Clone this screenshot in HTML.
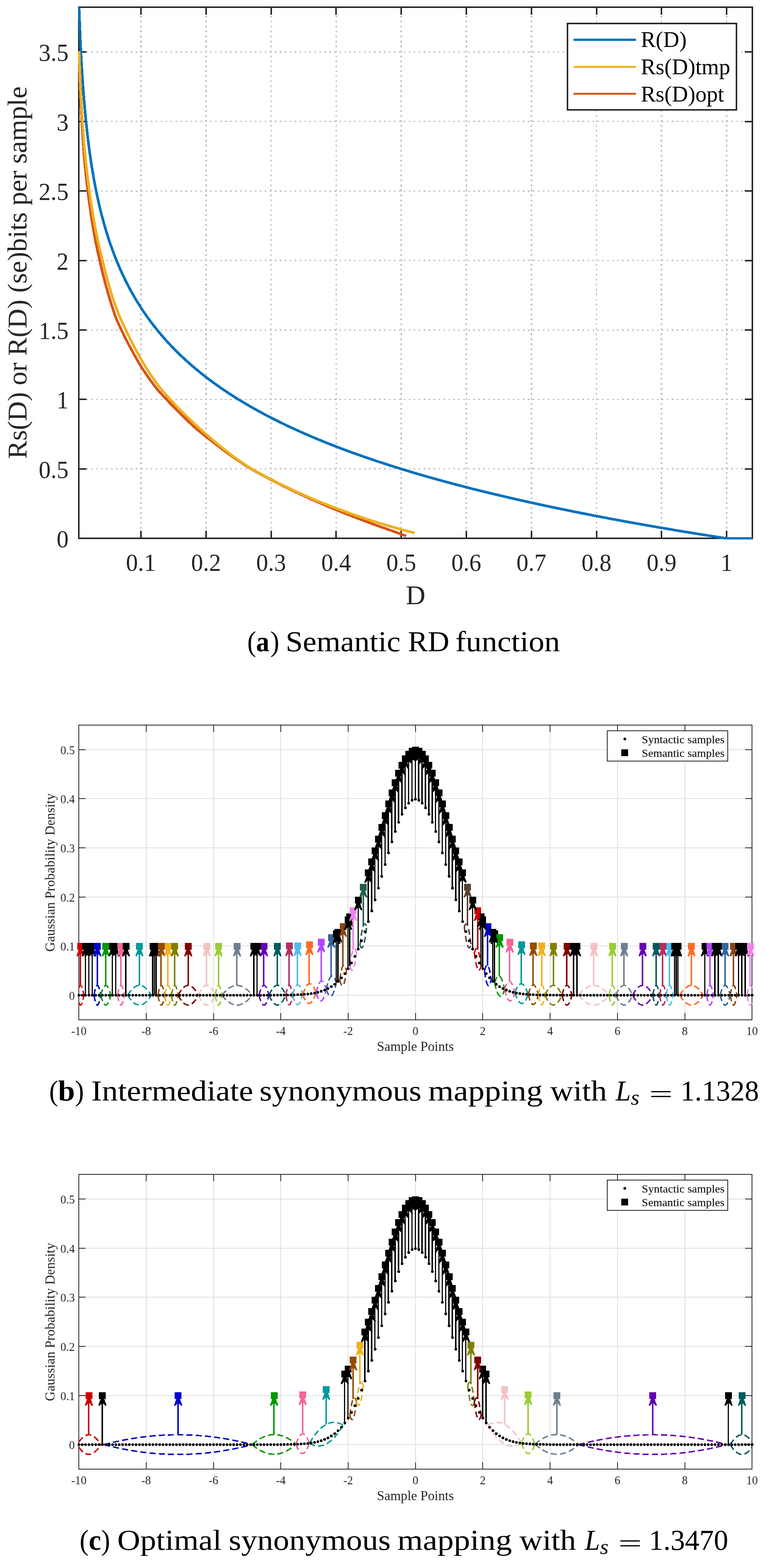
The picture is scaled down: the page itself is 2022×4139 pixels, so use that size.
<!DOCTYPE html>
<html lang="en"><head><meta charset="utf-8"><title>Semantic RD function and synonymous mappings</title>
<style>html,body{margin:0;padding:0;background:#fff}body{width:2022px;height:4139px;overflow:hidden}svg{display:block}text{white-space:pre}</style>
</head><body>
<svg width="2022" height="4139" viewBox="0 0 2022 4139" role="img" aria-label="Semantic rate-distortion function and synonymous mappings">
<rect width="2022" height="4139" fill="#fff"/>
<g id="plotA" shape-rendering="crispEdges">
<clipPath id="clipA"><rect x="206" y="17" width="1782" height="1407"/></clipPath>
<g stroke="#B9B9B9" stroke-width="3.7" stroke-dasharray="4.3 8.8" fill="none">
<line x1="372" y1="19" x2="372" y2="1421" stroke-dashoffset="3.31"/>
<line x1="543.79" y1="19" x2="543.79" y2="1421" stroke-dashoffset="3.31"/>
<line x1="715.57" y1="19" x2="715.57" y2="1421" stroke-dashoffset="3.31"/>
<line x1="887.36" y1="19" x2="887.36" y2="1421" stroke-dashoffset="3.31"/>
<line x1="1059.15" y1="19" x2="1059.15" y2="1421" stroke-dashoffset="3.31"/>
<line x1="1230.94" y1="19" x2="1230.94" y2="1421" stroke-dashoffset="3.31"/>
<line x1="1402.72" y1="19" x2="1402.72" y2="1421" stroke-dashoffset="3.31"/>
<line x1="1574.51" y1="19" x2="1574.51" y2="1421" stroke-dashoffset="3.31"/>
<line x1="1746.3" y1="19" x2="1746.3" y2="1421" stroke-dashoffset="3.31"/>
<line x1="1918.09" y1="19" x2="1918.09" y2="1421" stroke-dashoffset="3.31"/>
<line x1="208" y1="1237.88" x2="1986" y2="1237.88" stroke-width="3" stroke-dashoffset="6.71"/>
<line x1="208" y1="1054.47" x2="1986" y2="1054.47" stroke-width="3" stroke-dashoffset="6.71"/>
<line x1="208" y1="871.05" x2="1986" y2="871.05" stroke-width="3" stroke-dashoffset="6.71"/>
<line x1="208" y1="687.64" x2="1986" y2="687.64" stroke-width="3" stroke-dashoffset="6.71"/>
<line x1="208" y1="504.22" x2="1986" y2="504.22" stroke-width="3" stroke-dashoffset="6.71"/>
<line x1="208" y1="320.81" x2="1986" y2="320.81" stroke-width="3" stroke-dashoffset="6.71"/>
<line x1="208" y1="137.39" x2="1986" y2="137.39" stroke-width="3" stroke-dashoffset="6.71"/>
</g>
<rect x="208" y="19" width="1778" height="1402" fill="none" stroke="#262626" stroke-width="4"/>
<g stroke="#262626" stroke-width="4" fill="none">
<line x1="372" y1="1421" x2="372" y2="1401"/>
<line x1="372" y1="19" x2="372" y2="39"/>
<line x1="543.79" y1="1421" x2="543.79" y2="1401"/>
<line x1="543.79" y1="19" x2="543.79" y2="39"/>
<line x1="715.57" y1="1421" x2="715.57" y2="1401"/>
<line x1="715.57" y1="19" x2="715.57" y2="39"/>
<line x1="887.36" y1="1421" x2="887.36" y2="1401"/>
<line x1="887.36" y1="19" x2="887.36" y2="39"/>
<line x1="1059.15" y1="1421" x2="1059.15" y2="1401"/>
<line x1="1059.15" y1="19" x2="1059.15" y2="39"/>
<line x1="1230.94" y1="1421" x2="1230.94" y2="1401"/>
<line x1="1230.94" y1="19" x2="1230.94" y2="39"/>
<line x1="1402.72" y1="1421" x2="1402.72" y2="1401"/>
<line x1="1402.72" y1="19" x2="1402.72" y2="39"/>
<line x1="1574.51" y1="1421" x2="1574.51" y2="1401"/>
<line x1="1574.51" y1="19" x2="1574.51" y2="39"/>
<line x1="1746.3" y1="1421" x2="1746.3" y2="1401"/>
<line x1="1746.3" y1="19" x2="1746.3" y2="39"/>
<line x1="1918.09" y1="1421" x2="1918.09" y2="1401"/>
<line x1="1918.09" y1="19" x2="1918.09" y2="39"/>
<line x1="208" y1="1237.88" x2="228" y2="1237.88"/>
<line x1="1986" y1="1237.88" x2="1966" y2="1237.88"/>
<line x1="208" y1="1054.47" x2="228" y2="1054.47"/>
<line x1="1986" y1="1054.47" x2="1966" y2="1054.47"/>
<line x1="208" y1="871.05" x2="228" y2="871.05"/>
<line x1="1986" y1="871.05" x2="1966" y2="871.05"/>
<line x1="208" y1="687.64" x2="228" y2="687.64"/>
<line x1="1986" y1="687.64" x2="1966" y2="687.64"/>
<line x1="208" y1="504.22" x2="228" y2="504.22"/>
<line x1="1986" y1="504.22" x2="1966" y2="504.22"/>
<line x1="208" y1="320.81" x2="228" y2="320.81"/>
<line x1="1986" y1="320.81" x2="1966" y2="320.81"/>
<line x1="208" y1="137.39" x2="228" y2="137.39"/>
<line x1="1986" y1="137.39" x2="1966" y2="137.39"/>
</g>
<g clip-path="url(#clipA)" fill="none" stroke-width="6.9" stroke-linejoin="round" stroke-linecap="butt">
<polyline stroke="#0072BD" points="208.8,19.3 209.09,28.06 209.39,36.83 209.7,45.59 210.02,54.35 210.35,63.11 210.69,71.88 211.04,80.64 211.41,89.4 211.78,98.16 212.17,106.92 212.57,115.69 212.99,124.45 213.42,133.21 213.87,141.97 214.33,150.74 214.8,159.5 215.29,168.26 215.8,177.03 216.32,185.79 216.87,194.55 217.43,203.31 218.01,212.07 218.61,220.84 219.23,229.6 219.87,238.36 220.53,247.12 221.21,255.89 221.92,264.65 222.65,273.41 223.41,282.17 224.19,290.94 224.99,299.7 225.83,308.46 226.69,317.22 227.58,325.99 228.5,334.75 229.46,343.51 230.44,352.28 231.46,361.04 232.51,369.8 233.6,378.56 234.72,387.33 235.89,396.09 237.09,404.85 238.33,413.61 239.61,422.38 240.94,431.14 242.31,439.9 243.73,448.66 245.19,457.42 246.71,466.19 248.27,474.95 249.89,483.71 251.56,492.47 253.29,501.24 255.08,510 256.93,518.76 258.84,527.52 260.81,536.29 262.85,545.05 264.96,553.81 267.14,562.57 269.39,571.34 271.72,580.1 274.13,588.86 276.62,597.62 279.19,606.39 281.85,615.15 284.6,623.91 287.44,632.67 290.38,641.44 293.41,650.2 296.55,658.96 299.79,667.73 303.15,676.49 306.61,685.25 310.2,694.01 313.9,702.77 317.73,711.54 321.68,720.3 325.77,729.06 330,737.82 334.37,746.59 338.89,755.35 343.56,764.11 348.38,772.87 353.37,781.64 358.53,790.4 363.86,799.16 369.37,807.92 375.06,816.69 380.95,825.45 387.04,834.21 393.33,842.98 399.83,851.74 406.55,860.5 413.5,869.26 420.68,878.02 428.1,886.79 435.77,895.55 443.7,904.31 451.9,913.07 460.38,921.84 469.14,930.6 478.19,939.36 487.55,948.12 497.22,956.89 507.22,965.65 517.56,974.41 528.25,983.17 539.29,991.94 550.71,1000.7 562.51,1009.46 574.7,1018.22 587.31,1026.99 600.35,1035.75 613.82,1044.51 627.74,1053.28 642.14,1062.04 657.02,1070.8 672.4,1079.56 688.3,1088.32 704.73,1097.09 721.72,1105.85 739.28,1114.61 757.43,1123.38 776.19,1132.14 795.58,1140.9 815.62,1149.66 836.34,1158.42 857.76,1167.19 879.9,1175.95 902.79,1184.71 926.44,1193.47 950.89,1202.24 976.17,1211 1002.29,1219.76 1029.3,1228.53 1057.21,1237.29 1086.07,1246.05 1115.89,1254.81 1146.72,1263.57 1178.59,1272.34 1211.53,1281.1 1245.58,1289.86 1280.78,1298.62 1317.16,1307.39 1354.76,1316.15 1393.64,1324.91 1433.82,1333.67 1475.35,1342.44 1518.28,1351.2 1562.66,1359.96 1608.54,1368.72 1655.95,1377.49 1704.97,1386.25 1755.63,1395.01 1808,1403.78 1862.13,1412.54 1918.09,1421.3 1986.8,1421.3"/>
<polyline stroke="#D95319" points="208.8,154.25 209.14,164.71 209.49,175.19 209.85,185.67 210.23,196.17 210.62,206.68 211.03,217.21 211.46,227.75 211.9,238.3 212.36,248.86 212.83,259.45 213.33,270.04 213.84,280.66 214.38,291.29 214.94,301.94 215.51,312.61 216.11,323.3 216.74,334.01 217.39,344.74 218.06,355.5 218.76,366.28 219.49,377.08 220.25,387.91 221.03,398.76 221.85,409.65 222.7,420.32 223.58,429.89 224.5,439.44 225.45,448.97 226.44,458.48 227.47,467.96 228.54,477.42 229.66,486.84 230.81,496.25 232.01,505.75 233.26,515.98 234.56,526.2 235.91,536.43 237.31,546.66 238.76,556.89 240.28,567.12 241.85,577.35 243.48,587.58 245.18,597.82 246.95,608.06 248.78,618.3 250.69,628.54 252.67,638.79 254.73,649.03 256.87,659.28 259.09,669.53 261.4,679.79 263.81,690.2 266.3,701.19 268.9,712.22 271.59,723.28 274.39,734.38 277.31,745.51 280.33,756.69 283.48,767.91 286.75,779.18 290.14,790.61 293.67,802.12 297.34,813.68 301.15,825.31 305.12,836.77 309.23,846.46 313.51,856.14 317.96,865.79 322.58,875.6 327.39,885.6 332.38,895.6 337.56,905.59 342.96,915.58 348.56,925.55 354.38,936.29 360.43,947.14 366.72,958.02 373.26,968.93 380.05,979.41 387.11,989.78 394.44,1000.17 402.07,1010.56 409.99,1020.96 418.23,1031.28 426.78,1040.74 435.68,1050.17 444.92,1060 454.52,1070.19 464.51,1080.38 474.88,1090.57 485.66,1101.26 496.87,1112.19 508.51,1123.15 520.61,1133.84 533.19,1144 546.26,1154.28 559.84,1165.09 573.96,1175.92 588.63,1187.12 603.87,1198.43 619.72,1209.63 636.18,1220.8 653.29,1232 671.08,1242.36 689.56,1252.55 708.77,1262.74 728.73,1273.14 749.47,1283.67 771.03,1294.21 793.44,1304.81 816.72,1315.44 840.92,1326.15 866.07,1337 892.21,1347.84 919.37,1358.57 947.6,1369.4 976.93,1380.57 1007.42,1391.64 1039.1,1402.69 1072.03,1415.01"/>
<polyline stroke="#EDB120" points="208.8,135.33 209.14,145.49 209.49,155.65 209.86,165.81 210.24,175.96 210.63,186.1 211.05,196.25 211.47,206.39 211.92,216.52 212.38,226.66 212.86,236.78 213.36,246.91 213.88,257.02 214.42,267.14 214.98,277.24 215.56,287.35 216.17,297.44 216.8,307.54 217.45,317.62 218.13,327.7 218.84,337.78 219.57,347.84 220.34,357.9 221.13,367.96 221.96,378 222.82,388.04 223.71,398.07 224.64,408.09 225.6,418.11 226.6,427.99 227.64,437.82 228.73,447.64 229.85,457.45 231.02,467.23 232.24,477 233.5,486.76 234.82,496.49 236.18,506.24 237.6,516.63 239.08,527.02 240.61,537.43 242.21,547.83 243.86,558.25 245.59,568.67 247.38,579.1 249.24,589.54 251.17,599.98 253.18,610.43 255.28,620.89 257.45,631.36 259.71,641.84 262.06,652.33 264.5,662.83 267.03,673.34 269.67,683.86 272.41,695.08 275.26,706.75 278.22,718.48 281.3,730.27 284.5,742.14 287.83,754.08 291.29,766.1 294.88,778.21 298.62,789.33 302.5,800.45 306.54,811.6 310.74,822.79 315.1,834.03 319.63,844.44 324.35,854.68 329.25,864.92 334.34,875.33 339.63,886.46 345.14,897.63 350.86,908.84 356.8,920.09 362.98,931.51 369.4,943.14 376.08,954.83 383.02,966.59 390.24,978.01 397.74,989.23 405.53,1000.48 413.64,1011.78 422.06,1023.13 430.82,1033.73 439.92,1044.14 449.38,1054.55 459.21,1065.15 469.43,1075.76 480.06,1086.38 491.1,1097.2 502.59,1108.39 514.52,1119.62 526.92,1130.98 539.82,1142.55 553.22,1154.31 567.15,1166.19 581.64,1178.15 596.69,1190.19 612.34,1202.19 628.6,1213.89 645.51,1225.65 663.09,1236.85 681.35,1247.09 700.34,1257.34 720.08,1267.62 740.6,1278.03 761.93,1288.44 784.1,1298.82 807.14,1309.12 831.09,1319.43 855.99,1329.48 881.87,1339.52 908.78,1349.58 936.74,1359.65 965.81,1369.48 996.03,1379.17 1027.44,1388.65 1060.08,1397.85 1094.02,1406.9"/>
</g>
<g font-family="'Liberation Serif','Times New Roman',Times,serif" font-size="65" fill="#262626">
<text x="372" y="1507.4" text-anchor="middle" textLength="78.81" lengthAdjust="spacingAndGlyphs">0.1</text>
<text x="543.79" y="1507.4" text-anchor="middle" textLength="78.81" lengthAdjust="spacingAndGlyphs">0.2</text>
<text x="715.57" y="1507.4" text-anchor="middle" textLength="78.81" lengthAdjust="spacingAndGlyphs">0.3</text>
<text x="887.36" y="1507.4" text-anchor="middle" textLength="78.81" lengthAdjust="spacingAndGlyphs">0.4</text>
<text x="1059.15" y="1507.4" text-anchor="middle" textLength="78.81" lengthAdjust="spacingAndGlyphs">0.5</text>
<text x="1230.94" y="1507.4" text-anchor="middle" textLength="78.81" lengthAdjust="spacingAndGlyphs">0.6</text>
<text x="1402.72" y="1507.4" text-anchor="middle" textLength="78.81" lengthAdjust="spacingAndGlyphs">0.7</text>
<text x="1574.51" y="1507.4" text-anchor="middle" textLength="78.81" lengthAdjust="spacingAndGlyphs">0.8</text>
<text x="1746.3" y="1507.4" text-anchor="middle" textLength="78.81" lengthAdjust="spacingAndGlyphs">0.9</text>
<text x="1918.09" y="1507.4" text-anchor="middle" textLength="31.52" lengthAdjust="spacingAndGlyphs">1</text>
<text x="181" y="1445.3" text-anchor="end" textLength="31.52" lengthAdjust="spacingAndGlyphs">0</text>
<text x="181" y="1261.88" text-anchor="end" textLength="78.81" lengthAdjust="spacingAndGlyphs">0.5</text>
<text x="181" y="1078.47" text-anchor="end" textLength="31.52" lengthAdjust="spacingAndGlyphs">1</text>
<text x="181" y="895.05" text-anchor="end" textLength="78.81" lengthAdjust="spacingAndGlyphs">1.5</text>
<text x="181" y="711.64" text-anchor="end" textLength="31.52" lengthAdjust="spacingAndGlyphs">2</text>
<text x="181" y="528.22" text-anchor="end" textLength="78.81" lengthAdjust="spacingAndGlyphs">2.5</text>
<text x="181" y="344.81" text-anchor="end" textLength="31.52" lengthAdjust="spacingAndGlyphs">3</text>
<text x="181" y="161.39" text-anchor="end" textLength="78.81" lengthAdjust="spacingAndGlyphs">3.5</text>
</g>
<text x="1097" y="1594.5" text-anchor="middle" font-family="'Liberation Serif','Times New Roman',Times,serif" font-size="71.5" fill="#262626">D</text>
<text transform="translate(70 719.7) rotate(-90)" text-anchor="middle" font-family="'Liberation Serif','Times New Roman',Times,serif" font-size="71.5" fill="#262626" textLength="983.2" lengthAdjust="spacingAndGlyphs">Rs(D) or R(D) (se)bits per sample</text>
<rect x="1497.5" y="62" width="446.7" height="228.4" fill="#fff" stroke="#262626" stroke-width="4"/>
<line x1="1514.2" y1="104.8" x2="1678.7" y2="104.8" stroke="#0072BD" stroke-width="5.6"/>
<text x="1691.5" y="124.3" font-family="'Liberation Serif','Times New Roman',Times,serif" font-size="59" fill="#000">R(D)</text>
<line x1="1514.2" y1="176.3" x2="1678.7" y2="176.3" stroke="#EDB120" stroke-width="5.6"/>
<text x="1691.5" y="195.8" font-family="'Liberation Serif','Times New Roman',Times,serif" font-size="59" fill="#000">Rs(D)tmp</text>
<line x1="1514.2" y1="247.5" x2="1678.7" y2="247.5" stroke="#D95319" stroke-width="5.6"/>
<text x="1691.5" y="267.7" font-family="'Liberation Serif','Times New Roman',Times,serif" font-size="59" fill="#000">Rs(D)opt</text>
</g>
<g id="plotB" shape-rendering="crispEdges">
<clipPath id="clipB"><rect x="206.95" y="1912.9" width="1779.55" height="780"/></clipPath>
<g stroke="#DEDEDE" stroke-width="2.1" fill="none">
<line x1="385.87" y1="1913.9" x2="385.87" y2="2691.9"/>
<line x1="563.58" y1="1913.9" x2="563.58" y2="2691.9"/>
<line x1="741.29" y1="1913.9" x2="741.29" y2="2691.9"/>
<line x1="919.01" y1="1913.9" x2="919.01" y2="2691.9"/>
<line x1="1096.72" y1="1913.9" x2="1096.72" y2="2691.9"/>
<line x1="1274.44" y1="1913.9" x2="1274.44" y2="2691.9"/>
<line x1="1452.15" y1="1913.9" x2="1452.15" y2="2691.9"/>
<line x1="1629.87" y1="1913.9" x2="1629.87" y2="2691.9"/>
<line x1="1807.58" y1="1913.9" x2="1807.58" y2="2691.9"/>
<line x1="208.15" y1="2627.07" x2="1985.3" y2="2627.07"/>
<line x1="208.15" y1="2497.4" x2="1985.3" y2="2497.4"/>
<line x1="208.15" y1="2367.73" x2="1985.3" y2="2367.73"/>
<line x1="208.15" y1="2238.07" x2="1985.3" y2="2238.07"/>
<line x1="208.15" y1="2108.4" x2="1985.3" y2="2108.4"/>
<line x1="208.15" y1="1978.73" x2="1985.3" y2="1978.73"/>
</g>
<rect x="208" y="1914" width="1777" height="778" fill="none" stroke="#1a1a1a" stroke-width="2"/>
<g stroke="#1a1a1a" stroke-width="2" fill="none">
<line x1="385.87" y1="2691.9" x2="385.87" y2="2673.9"/>
<line x1="385.87" y1="1913.9" x2="385.87" y2="1931.9"/>
<line x1="563.58" y1="2691.9" x2="563.58" y2="2673.9"/>
<line x1="563.58" y1="1913.9" x2="563.58" y2="1931.9"/>
<line x1="741.29" y1="2691.9" x2="741.29" y2="2673.9"/>
<line x1="741.29" y1="1913.9" x2="741.29" y2="1931.9"/>
<line x1="919.01" y1="2691.9" x2="919.01" y2="2673.9"/>
<line x1="919.01" y1="1913.9" x2="919.01" y2="1931.9"/>
<line x1="1096.72" y1="2691.9" x2="1096.72" y2="2673.9"/>
<line x1="1096.72" y1="1913.9" x2="1096.72" y2="1931.9"/>
<line x1="1274.44" y1="2691.9" x2="1274.44" y2="2673.9"/>
<line x1="1274.44" y1="1913.9" x2="1274.44" y2="1931.9"/>
<line x1="1452.15" y1="2691.9" x2="1452.15" y2="2673.9"/>
<line x1="1452.15" y1="1913.9" x2="1452.15" y2="1931.9"/>
<line x1="1629.87" y1="2691.9" x2="1629.87" y2="2673.9"/>
<line x1="1629.87" y1="1913.9" x2="1629.87" y2="1931.9"/>
<line x1="1807.58" y1="2691.9" x2="1807.58" y2="2673.9"/>
<line x1="1807.58" y1="1913.9" x2="1807.58" y2="1931.9"/>
<line x1="208.15" y1="2627.07" x2="226.15" y2="2627.07"/>
<line x1="1985.3" y1="2627.07" x2="1967.3" y2="2627.07"/>
<line x1="208.15" y1="2497.4" x2="226.15" y2="2497.4"/>
<line x1="1985.3" y1="2497.4" x2="1967.3" y2="2497.4"/>
<line x1="208.15" y1="2367.73" x2="226.15" y2="2367.73"/>
<line x1="1985.3" y1="2367.73" x2="1967.3" y2="2367.73"/>
<line x1="208.15" y1="2238.07" x2="226.15" y2="2238.07"/>
<line x1="1985.3" y1="2238.07" x2="1967.3" y2="2238.07"/>
<line x1="208.15" y1="2108.4" x2="226.15" y2="2108.4"/>
<line x1="1985.3" y1="2108.4" x2="1967.3" y2="2108.4"/>
<line x1="208.15" y1="1978.73" x2="226.15" y2="1978.73"/>
<line x1="1985.3" y1="1978.73" x2="1967.3" y2="1978.73"/>
</g>
<g clip-path="url(#clipB)" fill="none" stroke-width="3.8" stroke-dasharray="16 8.4">
<path stroke="#CC0000" d="M208.2 2607.6Q214.8 2588.2 221.5 2627.1"/>
<path stroke="#CC0000" d="M208.2 2646.5Q214.8 2666 221.5 2627.1"/>
<path stroke="#0000CC" d="M248.1 2627.1Q257 2575.2 265.9 2627.1"/>
<path stroke="#0000CC" d="M248.1 2627.1Q257 2678.9 265.9 2627.1"/>
<path stroke="#009900" d="M265.9 2627.1Q279.2 2575.2 292.6 2627.1"/>
<path stroke="#009900" d="M265.9 2627.1Q279.2 2678.9 292.6 2627.1"/>
<path stroke="#F2669A" d="M310.3 2627.1Q319.2 2575.2 328.1 2627.1"/>
<path stroke="#F2669A" d="M310.3 2627.1Q319.2 2678.9 328.1 2627.1"/>
<path stroke="#009999" d="M337 2627.1Q368.1 2575.2 399.2 2627.1"/>
<path stroke="#009999" d="M337 2627.1Q368.1 2678.9 399.2 2627.1"/>
<path stroke="#964B00" d="M417 2627.1Q425.9 2575.2 434.7 2627.1"/>
<path stroke="#964B00" d="M417 2627.1Q425.9 2678.9 434.7 2627.1"/>
<path stroke="#EDB120" d="M434.7 2627.1Q443.6 2575.2 452.5 2627.1"/>
<path stroke="#EDB120" d="M434.7 2627.1Q443.6 2678.9 452.5 2627.1"/>
<path stroke="#808000" d="M452.5 2627.1Q461.4 2575.2 470.3 2627.1"/>
<path stroke="#808000" d="M452.5 2627.1Q461.4 2678.9 470.3 2627.1"/>
<path stroke="#800000" d="M470.3 2627.1Q496.9 2575.2 523.6 2627.1"/>
<path stroke="#800000" d="M470.3 2627.1Q496.9 2678.9 523.6 2627.1"/>
<path stroke="#F4C2C2" d="M523.6 2627.1Q545.8 2575.2 568 2627.1"/>
<path stroke="#F4C2C2" d="M523.6 2627.1Q545.8 2678.9 568 2627.1"/>
<path stroke="#9ACD32" d="M568 2627.1Q576.9 2575.2 585.8 2627.1"/>
<path stroke="#9ACD32" d="M568 2627.1Q576.9 2678.9 585.8 2627.1"/>
<path stroke="#708090" d="M585.8 2627.1Q625.8 2575.2 665.8 2627.1"/>
<path stroke="#708090" d="M585.8 2627.1Q625.8 2678.9 665.8 2627.1"/>
<path stroke="#6600B3" d="M683.5 2627.1Q696.9 2575.2 710.2 2627"/>
<path stroke="#6600B3" d="M683.5 2627.1Q696.9 2678.9 710.2 2627"/>
<path stroke="#005B5B" d="M710.2 2627Q732.4 2575 754.6 2626.8"/>
<path stroke="#005B5B" d="M710.2 2627Q732.4 2678.8 754.6 2626.8"/>
<path stroke="#B03060" d="M754.6 2626.8Q763.5 2574.7 772.4 2626.4"/>
<path stroke="#B03060" d="M754.6 2626.8Q763.5 2678.4 772.4 2626.4"/>
<path stroke="#4DBEEE" d="M772.4 2626.4Q785.7 2573.9 799.1 2625.2"/>
<path stroke="#4DBEEE" d="M772.4 2626.4Q785.7 2677.7 799.1 2625.2"/>
<path stroke="#FF6A24" d="M799.1 2625.2Q816.8 2570.9 834.6 2620.4"/>
<path stroke="#FF6A24" d="M799.1 2625.2Q816.8 2674.7 834.6 2620.4"/>
<path stroke="#B347FF" d="M834.6 2620.4Q847.9 2564.1 861.3 2611.6"/>
<path stroke="#B347FF" d="M834.6 2620.4Q847.9 2667.9 861.3 2611.6"/>
<path stroke="#336699" d="M861.3 2611.6Q874.6 2551.1 887.9 2594.4"/>
<path stroke="#336699" d="M861.3 2611.6Q874.6 2654.9 887.9 2594.4"/>
<path stroke="#8B4513" d="M896.8 2585.9Q905.7 2523 914.6 2563.8"/>
<path stroke="#8B4513" d="M896.8 2585.9Q905.7 2626.7 914.6 2563.8"/>
<path stroke="#EE82EE" d="M923.5 2549.8Q932.3 2480.6 941.2 2515.2"/>
<path stroke="#EE82EE" d="M923.5 2549.8Q932.3 2584.4 941.2 2515.2"/>
<path stroke="#215E4C" d="M950.1 2494.5Q959 2418.5 967.9 2446.3"/>
<path stroke="#215E4C" d="M950.1 2494.5Q959 2522.2 967.9 2446.3"/>
<path stroke="#5C4033" d="M1225.6 2446.3Q1234.5 2418.5 1243.3 2494.5"/>
<path stroke="#5C4033" d="M1225.6 2446.3Q1234.5 2522.2 1243.3 2494.5"/>
<path stroke="#CC0000" d="M1252.2 2515.2Q1261.1 2480.6 1270 2549.8"/>
<path stroke="#CC0000" d="M1252.2 2515.2Q1261.1 2584.4 1270 2549.8"/>
<path stroke="#0000CC" d="M1278.9 2563.8Q1287.8 2523 1296.7 2585.9"/>
<path stroke="#0000CC" d="M1278.9 2563.8Q1287.8 2626.7 1296.7 2585.9"/>
<path stroke="#009900" d="M1305.5 2594.4Q1318.9 2551.1 1332.2 2611.6"/>
<path stroke="#009900" d="M1305.5 2594.4Q1318.9 2654.9 1332.2 2611.6"/>
<path stroke="#F2669A" d="M1332.2 2611.6Q1345.5 2564.1 1358.9 2620.4"/>
<path stroke="#F2669A" d="M1332.2 2611.6Q1345.5 2667.9 1358.9 2620.4"/>
<path stroke="#009999" d="M1358.9 2620.4Q1376.6 2570.9 1394.4 2625.2"/>
<path stroke="#009999" d="M1358.9 2620.4Q1376.6 2674.7 1394.4 2625.2"/>
<path stroke="#964B00" d="M1394.4 2625.2Q1407.7 2573.9 1421.1 2626.4"/>
<path stroke="#964B00" d="M1394.4 2625.2Q1407.7 2677.7 1421.1 2626.4"/>
<path stroke="#EDB120" d="M1421.1 2626.4Q1429.9 2574.7 1438.8 2626.8"/>
<path stroke="#EDB120" d="M1421.1 2626.4Q1429.9 2678.4 1438.8 2626.8"/>
<path stroke="#808000" d="M1438.8 2626.8Q1461 2575 1483.3 2627"/>
<path stroke="#808000" d="M1438.8 2626.8Q1461 2678.8 1483.3 2627"/>
<path stroke="#800000" d="M1483.3 2627Q1496.6 2575.2 1509.9 2627.1"/>
<path stroke="#800000" d="M1483.3 2627Q1496.6 2678.9 1509.9 2627.1"/>
<path stroke="#F4C2C2" d="M1527.7 2627.1Q1567.7 2575.2 1607.7 2627.1"/>
<path stroke="#F4C2C2" d="M1527.7 2627.1Q1567.7 2678.9 1607.7 2627.1"/>
<path stroke="#9ACD32" d="M1607.7 2627.1Q1616.5 2575.2 1625.4 2627.1"/>
<path stroke="#9ACD32" d="M1607.7 2627.1Q1616.5 2678.9 1625.4 2627.1"/>
<path stroke="#708090" d="M1625.4 2627.1Q1647.6 2575.2 1669.9 2627.1"/>
<path stroke="#708090" d="M1625.4 2627.1Q1647.6 2678.9 1669.9 2627.1"/>
<path stroke="#6600B3" d="M1669.9 2627.1Q1696.5 2575.2 1723.2 2627.1"/>
<path stroke="#6600B3" d="M1669.9 2627.1Q1696.5 2678.9 1723.2 2627.1"/>
<path stroke="#005B5B" d="M1723.2 2627.1Q1732.1 2575.2 1740.9 2627.1"/>
<path stroke="#005B5B" d="M1723.2 2627.1Q1732.1 2678.9 1740.9 2627.1"/>
<path stroke="#B03060" d="M1740.9 2627.1Q1749.8 2575.2 1758.7 2627.1"/>
<path stroke="#B03060" d="M1740.9 2627.1Q1749.8 2678.9 1758.7 2627.1"/>
<path stroke="#4DBEEE" d="M1758.7 2627.1Q1767.6 2575.2 1776.5 2627.1"/>
<path stroke="#4DBEEE" d="M1758.7 2627.1Q1767.6 2678.9 1776.5 2627.1"/>
<path stroke="#FF6A24" d="M1794.3 2627.1Q1825.4 2575.2 1856.5 2627.1"/>
<path stroke="#FF6A24" d="M1794.3 2627.1Q1825.4 2678.9 1856.5 2627.1"/>
<path stroke="#B347FF" d="M1865.3 2627.1Q1874.2 2575.2 1883.1 2627.1"/>
<path stroke="#B347FF" d="M1865.3 2627.1Q1874.2 2678.9 1883.1 2627.1"/>
<path stroke="#336699" d="M1900.9 2627.1Q1914.2 2575.2 1927.5 2627.1"/>
<path stroke="#336699" d="M1900.9 2627.1Q1914.2 2678.9 1927.5 2627.1"/>
<path stroke="#8B4513" d="M1927.5 2627.1Q1936.4 2575.2 1945.3 2627.1"/>
<path stroke="#8B4513" d="M1927.5 2627.1Q1936.4 2678.9 1945.3 2627.1"/>
<path stroke="#EE82EE" d="M1972 2627.1Q1978.6 2588.2 1985.3 2607.6"/>
<path stroke="#EE82EE" d="M1972 2627.1Q1978.6 2666 1985.3 2646.5"/>
</g>
<g fill="#000">
<circle cx="208.15" cy="2627.07" r="3.6"/>
<circle cx="217.04" cy="2627.07" r="3.6"/>
<circle cx="225.92" cy="2627.07" r="3.6"/>
<circle cx="234.81" cy="2627.07" r="3.6"/>
<circle cx="243.69" cy="2627.07" r="3.6"/>
<circle cx="252.58" cy="2627.07" r="3.6"/>
<circle cx="261.46" cy="2627.07" r="3.6"/>
<circle cx="270.35" cy="2627.07" r="3.6"/>
<circle cx="279.24" cy="2627.07" r="3.6"/>
<circle cx="288.12" cy="2627.07" r="3.6"/>
<circle cx="297.01" cy="2627.07" r="3.6"/>
<circle cx="305.89" cy="2627.07" r="3.6"/>
<circle cx="314.78" cy="2627.07" r="3.6"/>
<circle cx="323.66" cy="2627.07" r="3.6"/>
<circle cx="332.55" cy="2627.07" r="3.6"/>
<circle cx="341.44" cy="2627.07" r="3.6"/>
<circle cx="350.32" cy="2627.07" r="3.6"/>
<circle cx="359.21" cy="2627.07" r="3.6"/>
<circle cx="368.09" cy="2627.07" r="3.6"/>
<circle cx="376.98" cy="2627.07" r="3.6"/>
<circle cx="385.87" cy="2627.07" r="3.6"/>
<circle cx="394.75" cy="2627.07" r="3.6"/>
<circle cx="403.64" cy="2627.07" r="3.6"/>
<circle cx="412.52" cy="2627.07" r="3.6"/>
<circle cx="421.41" cy="2627.07" r="3.6"/>
<circle cx="430.29" cy="2627.07" r="3.6"/>
<circle cx="439.18" cy="2627.07" r="3.6"/>
<circle cx="448.07" cy="2627.07" r="3.6"/>
<circle cx="456.95" cy="2627.07" r="3.6"/>
<circle cx="465.84" cy="2627.07" r="3.6"/>
<circle cx="474.72" cy="2627.07" r="3.6"/>
<circle cx="483.61" cy="2627.07" r="3.6"/>
<circle cx="492.49" cy="2627.07" r="3.6"/>
<circle cx="501.38" cy="2627.07" r="3.6"/>
<circle cx="510.27" cy="2627.07" r="3.6"/>
<circle cx="519.15" cy="2627.07" r="3.6"/>
<circle cx="528.04" cy="2627.07" r="3.6"/>
<circle cx="536.92" cy="2627.07" r="3.6"/>
<circle cx="545.81" cy="2627.07" r="3.6"/>
<circle cx="554.69" cy="2627.07" r="3.6"/>
<circle cx="563.58" cy="2627.07" r="3.6"/>
<circle cx="572.47" cy="2627.07" r="3.6"/>
<circle cx="581.35" cy="2627.07" r="3.6"/>
<circle cx="590.24" cy="2627.07" r="3.6"/>
<circle cx="599.12" cy="2627.07" r="3.6"/>
<circle cx="608.01" cy="2627.07" r="3.6"/>
<circle cx="616.89" cy="2627.07" r="3.6"/>
<circle cx="625.78" cy="2627.07" r="3.6"/>
<circle cx="634.67" cy="2627.07" r="3.6"/>
<circle cx="643.55" cy="2627.07" r="3.6"/>
<circle cx="652.44" cy="2627.06" r="3.6"/>
<circle cx="661.32" cy="2627.06" r="3.6"/>
<circle cx="670.21" cy="2627.06" r="3.6"/>
<circle cx="679.09" cy="2627.06" r="3.6"/>
<circle cx="687.98" cy="2627.05" r="3.6"/>
<circle cx="696.87" cy="2627.05" r="3.6"/>
<circle cx="705.75" cy="2627.03" r="3.6"/>
<circle cx="714.64" cy="2627.02" r="3.6"/>
<circle cx="723.52" cy="2626.99" r="3.6"/>
<circle cx="732.41" cy="2626.95" r="3.6"/>
<circle cx="741.29" cy="2626.89" r="3.6"/>
<circle cx="750.18" cy="2626.81" r="3.6"/>
<circle cx="759.07" cy="2626.69" r="3.6"/>
<circle cx="767.95" cy="2626.52" r="3.6"/>
<circle cx="776.84" cy="2626.27" r="3.6"/>
<circle cx="785.72" cy="2625.94" r="3.6"/>
<circle cx="794.61" cy="2625.47" r="3.6"/>
<circle cx="803.5" cy="2624.83" r="3.6"/>
<circle cx="812.38" cy="2623.98" r="3.6"/>
<circle cx="821.27" cy="2622.83" r="3.6"/>
<circle cx="830.15" cy="2621.32" r="3.6"/>
<circle cx="839.04" cy="2619.35" r="3.6"/>
<circle cx="847.92" cy="2616.8" r="3.6"/>
<circle cx="856.81" cy="2613.55" r="3.6"/>
<circle cx="865.7" cy="2609.45" r="3.6"/>
<circle cx="874.58" cy="2604.34" r="3.6"/>
<circle cx="883.47" cy="2598.03" r="3.6"/>
<circle cx="892.35" cy="2590.34" r="3.6"/>
<circle cx="901.24" cy="2581.07" r="3.6"/>
<circle cx="910.12" cy="2570.03" r="3.6"/>
<circle cx="919.01" cy="2557.06" r="3.6"/>
<circle cx="927.9" cy="2541.98" r="3.6"/>
<circle cx="936.78" cy="2524.69" r="3.6"/>
<circle cx="945.67" cy="2505.12" r="3.6"/>
<circle cx="954.55" cy="2483.24" r="3.6"/>
<circle cx="963.44" cy="2459.13" r="3.6"/>
<circle cx="972.32" cy="2432.92" r="3.6"/>
<circle cx="981.21" cy="2404.86" r="3.6"/>
<circle cx="990.1" cy="2375.27" r="3.6"/>
<circle cx="998.98" cy="2344.59" r="3.6"/>
<circle cx="1007.87" cy="2313.31" r="3.6"/>
<circle cx="1016.75" cy="2282.04" r="3.6"/>
<circle cx="1025.64" cy="2251.43" r="3.6"/>
<circle cx="1034.52" cy="2222.18" r="3.6"/>
<circle cx="1043.41" cy="2194.99" r="3.6"/>
<circle cx="1052.3" cy="2170.56" r="3.6"/>
<circle cx="1061.18" cy="2149.54" r="3.6"/>
<circle cx="1070.07" cy="2132.53" r="3.6"/>
<circle cx="1078.95" cy="2120.01" r="3.6"/>
<circle cx="1087.84" cy="2112.35" r="3.6"/>
<circle cx="1096.72" cy="2109.77" r="3.6"/>
<circle cx="1105.61" cy="2112.35" r="3.6"/>
<circle cx="1114.5" cy="2120.01" r="3.6"/>
<circle cx="1123.38" cy="2132.53" r="3.6"/>
<circle cx="1132.27" cy="2149.54" r="3.6"/>
<circle cx="1141.15" cy="2170.56" r="3.6"/>
<circle cx="1150.04" cy="2194.99" r="3.6"/>
<circle cx="1158.93" cy="2222.18" r="3.6"/>
<circle cx="1167.81" cy="2251.43" r="3.6"/>
<circle cx="1176.7" cy="2282.04" r="3.6"/>
<circle cx="1185.58" cy="2313.31" r="3.6"/>
<circle cx="1194.47" cy="2344.59" r="3.6"/>
<circle cx="1203.35" cy="2375.27" r="3.6"/>
<circle cx="1212.24" cy="2404.86" r="3.6"/>
<circle cx="1221.13" cy="2432.92" r="3.6"/>
<circle cx="1230.01" cy="2459.13" r="3.6"/>
<circle cx="1238.9" cy="2483.24" r="3.6"/>
<circle cx="1247.78" cy="2505.12" r="3.6"/>
<circle cx="1256.67" cy="2524.69" r="3.6"/>
<circle cx="1265.55" cy="2541.98" r="3.6"/>
<circle cx="1274.44" cy="2557.06" r="3.6"/>
<circle cx="1283.33" cy="2570.03" r="3.6"/>
<circle cx="1292.21" cy="2581.07" r="3.6"/>
<circle cx="1301.1" cy="2590.34" r="3.6"/>
<circle cx="1309.98" cy="2598.03" r="3.6"/>
<circle cx="1318.87" cy="2604.34" r="3.6"/>
<circle cx="1327.75" cy="2609.45" r="3.6"/>
<circle cx="1336.64" cy="2613.55" r="3.6"/>
<circle cx="1345.53" cy="2616.8" r="3.6"/>
<circle cx="1354.41" cy="2619.35" r="3.6"/>
<circle cx="1363.3" cy="2621.32" r="3.6"/>
<circle cx="1372.18" cy="2622.83" r="3.6"/>
<circle cx="1381.07" cy="2623.98" r="3.6"/>
<circle cx="1389.95" cy="2624.83" r="3.6"/>
<circle cx="1398.84" cy="2625.47" r="3.6"/>
<circle cx="1407.73" cy="2625.94" r="3.6"/>
<circle cx="1416.61" cy="2626.27" r="3.6"/>
<circle cx="1425.5" cy="2626.52" r="3.6"/>
<circle cx="1434.38" cy="2626.69" r="3.6"/>
<circle cx="1443.27" cy="2626.81" r="3.6"/>
<circle cx="1452.15" cy="2626.89" r="3.6"/>
<circle cx="1461.04" cy="2626.95" r="3.6"/>
<circle cx="1469.93" cy="2626.99" r="3.6"/>
<circle cx="1478.81" cy="2627.02" r="3.6"/>
<circle cx="1487.7" cy="2627.03" r="3.6"/>
<circle cx="1496.58" cy="2627.05" r="3.6"/>
<circle cx="1505.47" cy="2627.05" r="3.6"/>
<circle cx="1514.36" cy="2627.06" r="3.6"/>
<circle cx="1523.24" cy="2627.06" r="3.6"/>
<circle cx="1532.13" cy="2627.06" r="3.6"/>
<circle cx="1541.01" cy="2627.06" r="3.6"/>
<circle cx="1549.9" cy="2627.07" r="3.6"/>
<circle cx="1558.78" cy="2627.07" r="3.6"/>
<circle cx="1567.67" cy="2627.07" r="3.6"/>
<circle cx="1576.56" cy="2627.07" r="3.6"/>
<circle cx="1585.44" cy="2627.07" r="3.6"/>
<circle cx="1594.33" cy="2627.07" r="3.6"/>
<circle cx="1603.21" cy="2627.07" r="3.6"/>
<circle cx="1612.1" cy="2627.07" r="3.6"/>
<circle cx="1620.98" cy="2627.07" r="3.6"/>
<circle cx="1629.87" cy="2627.07" r="3.6"/>
<circle cx="1638.76" cy="2627.07" r="3.6"/>
<circle cx="1647.64" cy="2627.07" r="3.6"/>
<circle cx="1656.53" cy="2627.07" r="3.6"/>
<circle cx="1665.41" cy="2627.07" r="3.6"/>
<circle cx="1674.3" cy="2627.07" r="3.6"/>
<circle cx="1683.18" cy="2627.07" r="3.6"/>
<circle cx="1692.07" cy="2627.07" r="3.6"/>
<circle cx="1700.96" cy="2627.07" r="3.6"/>
<circle cx="1709.84" cy="2627.07" r="3.6"/>
<circle cx="1718.73" cy="2627.07" r="3.6"/>
<circle cx="1727.61" cy="2627.07" r="3.6"/>
<circle cx="1736.5" cy="2627.07" r="3.6"/>
<circle cx="1745.38" cy="2627.07" r="3.6"/>
<circle cx="1754.27" cy="2627.07" r="3.6"/>
<circle cx="1763.16" cy="2627.07" r="3.6"/>
<circle cx="1772.04" cy="2627.07" r="3.6"/>
<circle cx="1780.93" cy="2627.07" r="3.6"/>
<circle cx="1789.81" cy="2627.07" r="3.6"/>
<circle cx="1798.7" cy="2627.07" r="3.6"/>
<circle cx="1807.58" cy="2627.07" r="3.6"/>
<circle cx="1816.47" cy="2627.07" r="3.6"/>
<circle cx="1825.36" cy="2627.07" r="3.6"/>
<circle cx="1834.24" cy="2627.07" r="3.6"/>
<circle cx="1843.13" cy="2627.07" r="3.6"/>
<circle cx="1852.01" cy="2627.07" r="3.6"/>
<circle cx="1860.9" cy="2627.07" r="3.6"/>
<circle cx="1869.79" cy="2627.07" r="3.6"/>
<circle cx="1878.67" cy="2627.07" r="3.6"/>
<circle cx="1887.56" cy="2627.07" r="3.6"/>
<circle cx="1896.44" cy="2627.07" r="3.6"/>
<circle cx="1905.33" cy="2627.07" r="3.6"/>
<circle cx="1914.21" cy="2627.07" r="3.6"/>
<circle cx="1923.1" cy="2627.07" r="3.6"/>
<circle cx="1931.99" cy="2627.07" r="3.6"/>
<circle cx="1940.87" cy="2627.07" r="3.6"/>
<circle cx="1949.76" cy="2627.07" r="3.6"/>
<circle cx="1958.64" cy="2627.07" r="3.6"/>
<circle cx="1967.53" cy="2627.07" r="3.6"/>
<circle cx="1976.41" cy="2627.07" r="3.6"/>
<circle cx="1985.3" cy="2627.07" r="3.6"/>
</g>
<g>
<rect x="203.59" y="2488.7" width="18" height="18" fill="#CC0000"/>
<rect x="216.92" y="2488.7" width="18" height="18" fill="#000"/>
<rect x="225.81" y="2488.7" width="18" height="18" fill="#000"/>
<rect x="234.69" y="2488.7" width="18" height="18" fill="#000"/>
<rect x="248.02" y="2488.7" width="18" height="18" fill="#0000CC"/>
<rect x="270.24" y="2488.7" width="18" height="18" fill="#009900"/>
<rect x="288.01" y="2488.7" width="18" height="18" fill="#000"/>
<rect x="296.89" y="2488.7" width="18" height="18" fill="#000"/>
<rect x="310.22" y="2488.7" width="18" height="18" fill="#F2669A"/>
<rect x="323.55" y="2488.7" width="18" height="18" fill="#000"/>
<rect x="359.09" y="2488.7" width="18" height="18" fill="#009999"/>
<rect x="394.64" y="2488.7" width="18" height="18" fill="#000"/>
<rect x="399.08" y="2488.7" width="18" height="18" fill="#000"/>
<rect x="403.52" y="2488.7" width="18" height="18" fill="#000"/>
<rect x="416.85" y="2488.7" width="18" height="18" fill="#964B00"/>
<rect x="434.62" y="2488.7" width="18" height="18" fill="#EDB120"/>
<rect x="452.39" y="2488.7" width="18" height="18" fill="#808000"/>
<rect x="487.94" y="2488.7" width="18" height="18" fill="#800000"/>
<rect x="536.81" y="2488.7" width="18" height="18" fill="#F4C2C2"/>
<rect x="567.91" y="2488.7" width="18" height="18" fill="#9ACD32"/>
<rect x="616.78" y="2488.7" width="18" height="18" fill="#708090"/>
<rect x="661.21" y="2488.69" width="18" height="18" fill="#000"/>
<rect x="670.09" y="2488.69" width="18" height="18" fill="#000"/>
<rect x="687.87" y="2488.68" width="18" height="18" fill="#6600B3"/>
<rect x="723.41" y="2488.58" width="18" height="18" fill="#005B5B"/>
<rect x="754.51" y="2488.24" width="18" height="18" fill="#B03060"/>
<rect x="776.72" y="2487.57" width="18" height="18" fill="#4DBEEE"/>
<rect x="807.82" y="2485.08" width="18" height="18" fill="#FF6A24"/>
<rect x="838.92" y="2478.44" width="18" height="18" fill="#B347FF"/>
<rect x="865.58" y="2465.97" width="18" height="18" fill="#336699"/>
<rect x="878.91" y="2456" width="18" height="18" fill="#000"/>
<rect x="883.35" y="2451.97" width="18" height="18" fill="#000"/>
<rect x="896.68" y="2437.42" width="18" height="18" fill="#8B4513"/>
<rect x="910.01" y="2418.69" width="18" height="18" fill="#000"/>
<rect x="914.45" y="2411.43" width="18" height="18" fill="#000"/>
<rect x="923.34" y="2395.26" width="18" height="18" fill="#EE82EE"/>
<rect x="936.67" y="2366.75" width="18" height="18" fill="#000"/>
<rect x="950" y="2333.09" width="18" height="18" fill="#215E4C"/>
<rect x="963.32" y="2294.55" width="18" height="18" fill="#000"/>
<rect x="972.21" y="2266.49" width="18" height="18" fill="#000"/>
<rect x="981.1" y="2236.91" width="18" height="18" fill="#000"/>
<rect x="989.98" y="2206.22" width="18" height="18" fill="#000"/>
<rect x="998.87" y="2174.94" width="18" height="18" fill="#000"/>
<rect x="1007.75" y="2143.68" width="18" height="18" fill="#000"/>
<rect x="1016.64" y="2113.07" width="18" height="18" fill="#000"/>
<rect x="1025.52" y="2083.81" width="18" height="18" fill="#000"/>
<rect x="1034.41" y="2056.62" width="18" height="18" fill="#000"/>
<rect x="1043.3" y="2032.19" width="18" height="18" fill="#000"/>
<rect x="1052.18" y="2011.18" width="18" height="18" fill="#000"/>
<rect x="1061.07" y="1994.17" width="18" height="18" fill="#000"/>
<rect x="1069.95" y="1981.65" width="18" height="18" fill="#000"/>
<rect x="1078.84" y="1973.98" width="18" height="18" fill="#000"/>
<rect x="1087.72" y="1971.4" width="18" height="18" fill="#000"/>
<rect x="1096.61" y="1973.98" width="18" height="18" fill="#000"/>
<rect x="1105.5" y="1981.65" width="18" height="18" fill="#000"/>
<rect x="1114.38" y="1994.17" width="18" height="18" fill="#000"/>
<rect x="1123.27" y="2011.18" width="18" height="18" fill="#000"/>
<rect x="1132.15" y="2032.19" width="18" height="18" fill="#000"/>
<rect x="1141.04" y="2056.62" width="18" height="18" fill="#000"/>
<rect x="1149.93" y="2083.81" width="18" height="18" fill="#000"/>
<rect x="1158.81" y="2113.07" width="18" height="18" fill="#000"/>
<rect x="1167.7" y="2143.68" width="18" height="18" fill="#000"/>
<rect x="1176.58" y="2174.94" width="18" height="18" fill="#000"/>
<rect x="1185.47" y="2206.22" width="18" height="18" fill="#000"/>
<rect x="1194.35" y="2236.91" width="18" height="18" fill="#000"/>
<rect x="1203.24" y="2266.49" width="18" height="18" fill="#000"/>
<rect x="1212.13" y="2294.55" width="18" height="18" fill="#000"/>
<rect x="1225.45" y="2333.09" width="18" height="18" fill="#5C4033"/>
<rect x="1238.78" y="2366.75" width="18" height="18" fill="#000"/>
<rect x="1252.11" y="2395.26" width="18" height="18" fill="#CC0000"/>
<rect x="1261" y="2411.43" width="18" height="18" fill="#000"/>
<rect x="1265.44" y="2418.69" width="18" height="18" fill="#000"/>
<rect x="1278.77" y="2437.42" width="18" height="18" fill="#0000CC"/>
<rect x="1292.1" y="2451.97" width="18" height="18" fill="#000"/>
<rect x="1296.54" y="2456" width="18" height="18" fill="#000"/>
<rect x="1309.87" y="2465.97" width="18" height="18" fill="#009900"/>
<rect x="1336.53" y="2478.44" width="18" height="18" fill="#F2669A"/>
<rect x="1367.63" y="2485.08" width="18" height="18" fill="#009999"/>
<rect x="1398.73" y="2487.57" width="18" height="18" fill="#964B00"/>
<rect x="1420.94" y="2488.24" width="18" height="18" fill="#EDB120"/>
<rect x="1452.04" y="2488.58" width="18" height="18" fill="#808000"/>
<rect x="1487.58" y="2488.68" width="18" height="18" fill="#800000"/>
<rect x="1505.36" y="2488.69" width="18" height="18" fill="#000"/>
<rect x="1514.24" y="2488.69" width="18" height="18" fill="#000"/>
<rect x="1558.67" y="2488.7" width="18" height="18" fill="#F4C2C2"/>
<rect x="1607.54" y="2488.7" width="18" height="18" fill="#9ACD32"/>
<rect x="1638.64" y="2488.7" width="18" height="18" fill="#708090"/>
<rect x="1687.51" y="2488.7" width="18" height="18" fill="#6600B3"/>
<rect x="1723.06" y="2488.7" width="18" height="18" fill="#005B5B"/>
<rect x="1740.83" y="2488.7" width="18" height="18" fill="#B03060"/>
<rect x="1758.6" y="2488.7" width="18" height="18" fill="#4DBEEE"/>
<rect x="1771.93" y="2488.7" width="18" height="18" fill="#000"/>
<rect x="1776.37" y="2488.7" width="18" height="18" fill="#000"/>
<rect x="1780.81" y="2488.7" width="18" height="18" fill="#000"/>
<rect x="1816.36" y="2488.7" width="18" height="18" fill="#FF6A24"/>
<rect x="1851.9" y="2488.7" width="18" height="18" fill="#000"/>
<rect x="1865.23" y="2488.7" width="18" height="18" fill="#B347FF"/>
<rect x="1878.56" y="2488.7" width="18" height="18" fill="#000"/>
<rect x="1887.44" y="2488.7" width="18" height="18" fill="#000"/>
<rect x="1905.21" y="2488.7" width="18" height="18" fill="#336699"/>
<rect x="1927.43" y="2488.7" width="18" height="18" fill="#8B4513"/>
<rect x="1940.76" y="2488.7" width="18" height="18" fill="#000"/>
<rect x="1949.64" y="2488.7" width="18" height="18" fill="#000"/>
<rect x="1958.53" y="2488.7" width="18" height="18" fill="#000"/>
<rect x="1971.86" y="2488.7" width="18" height="18" fill="#EE82EE"/>
</g>
<g>
<path fill="#CC0000" d="M210.19 2507.4H214.19V2601.13H210.19Z M212.59 2492.9 L223.39 2523.4 L220.59 2525 L212.59 2516.2 L204.59 2525 L201.79 2523.4Z"/>
<path fill="#000" d="M223.77 2507.4H227.27V2627.07H223.77Z M225.92 2492.9 L236.72 2523.4 L233.92 2525 L225.92 2516.2 L217.92 2525 L215.12 2523.4Z"/>
<path fill="#000" d="M232.66 2507.4H236.16V2627.07H232.66Z M234.81 2492.9 L245.61 2523.4 L242.81 2525 L234.81 2516.2 L226.81 2525 L224.01 2523.4Z"/>
<path fill="#000" d="M241.54 2507.4H245.04V2627.07H241.54Z M243.69 2492.9 L254.49 2523.4 L251.69 2525 L243.69 2516.2 L235.69 2525 L232.89 2523.4Z"/>
<path fill="#0000CC" d="M254.62 2507.4H258.62V2601.13H254.62Z M257.02 2492.9 L267.82 2523.4 L265.02 2525 L257.02 2516.2 L249.02 2525 L246.22 2523.4Z"/>
<path fill="#009900" d="M276.84 2507.4H280.84V2601.13H276.84Z M279.24 2492.9 L290.04 2523.4 L287.24 2525 L279.24 2516.2 L271.24 2525 L268.44 2523.4Z"/>
<path fill="#000" d="M294.86 2507.4H298.36V2627.07H294.86Z M297.01 2492.9 L307.81 2523.4 L305.01 2525 L297.01 2516.2 L289.01 2525 L286.21 2523.4Z"/>
<path fill="#000" d="M303.74 2507.4H307.24V2627.07H303.74Z M305.89 2492.9 L316.69 2523.4 L313.89 2525 L305.89 2516.2 L297.89 2525 L295.09 2523.4Z"/>
<path fill="#F2669A" d="M316.82 2507.4H320.82V2601.13H316.82Z M319.22 2492.9 L330.02 2523.4 L327.22 2525 L319.22 2516.2 L311.22 2525 L308.42 2523.4Z"/>
<path fill="#000" d="M330.4 2507.4H333.9V2627.07H330.4Z M332.55 2492.9 L343.35 2523.4 L340.55 2525 L332.55 2516.2 L324.55 2525 L321.75 2523.4Z"/>
<path fill="#009999" d="M365.69 2507.4H369.69V2601.13H365.69Z M368.09 2492.9 L378.89 2523.4 L376.09 2525 L368.09 2516.2 L360.09 2525 L357.29 2523.4Z"/>
<path fill="#000" d="M401.49 2507.4H404.99V2627.07H401.49Z M403.64 2492.9 L414.44 2523.4 L411.64 2525 L403.64 2516.2 L395.64 2525 L392.84 2523.4Z"/>
<path fill="#000" d="M405.93 2507.4H409.43V2627.07H405.93Z M408.08 2492.9 L418.88 2523.4 L416.08 2525 L408.08 2516.2 L400.08 2525 L397.28 2523.4Z"/>
<path fill="#000" d="M410.37 2507.4H413.87V2627.07H410.37Z M412.52 2492.9 L423.32 2523.4 L420.52 2525 L412.52 2516.2 L404.52 2525 L401.72 2523.4Z"/>
<path fill="#964B00" d="M423.45 2507.4H427.45V2601.13H423.45Z M425.85 2492.9 L436.65 2523.4 L433.85 2525 L425.85 2516.2 L417.85 2525 L415.05 2523.4Z"/>
<path fill="#EDB120" d="M441.22 2507.4H445.22V2601.13H441.22Z M443.62 2492.9 L454.42 2523.4 L451.62 2525 L443.62 2516.2 L435.62 2525 L432.82 2523.4Z"/>
<path fill="#808000" d="M458.99 2507.4H462.99V2601.13H458.99Z M461.39 2492.9 L472.19 2523.4 L469.39 2525 L461.39 2516.2 L453.39 2525 L450.59 2523.4Z"/>
<path fill="#800000" d="M494.54 2507.4H498.54V2601.13H494.54Z M496.94 2492.9 L507.74 2523.4 L504.94 2525 L496.94 2516.2 L488.94 2525 L486.14 2523.4Z"/>
<path fill="#F4C2C2" d="M543.41 2507.4H547.41V2601.13H543.41Z M545.81 2492.9 L556.61 2523.4 L553.81 2525 L545.81 2516.2 L537.81 2525 L535.01 2523.4Z"/>
<path fill="#9ACD32" d="M574.51 2507.4H578.51V2601.13H574.51Z M576.91 2492.9 L587.71 2523.4 L584.91 2525 L576.91 2516.2 L568.91 2525 L566.11 2523.4Z"/>
<path fill="#708090" d="M623.38 2507.4H627.38V2601.13H623.38Z M625.78 2492.9 L636.58 2523.4 L633.78 2525 L625.78 2516.2 L617.78 2525 L614.98 2523.4Z"/>
<path fill="#000" d="M668.06 2507.39H671.56V2627.06H668.06Z M670.21 2492.89 L681.01 2523.39 L678.21 2524.99 L670.21 2516.19 L662.21 2524.99 L659.41 2523.39Z"/>
<path fill="#000" d="M676.94 2507.39H680.44V2627.06H676.94Z M679.09 2492.89 L689.89 2523.39 L687.09 2524.99 L679.09 2516.19 L671.09 2524.99 L668.29 2523.39Z"/>
<path fill="#6600B3" d="M694.47 2507.38H698.47V2601.11H694.47Z M696.87 2492.88 L707.67 2523.38 L704.87 2524.98 L696.87 2516.18 L688.87 2524.98 L686.07 2523.38Z"/>
<path fill="#005B5B" d="M730.01 2507.28H734.01V2600.96H730.01Z M732.41 2492.78 L743.21 2523.28 L740.41 2524.88 L732.41 2516.08 L724.41 2524.88 L721.61 2523.28Z"/>
<path fill="#B03060" d="M761.11 2506.94H765.11V2600.65H761.11Z M763.51 2492.44 L774.31 2522.94 L771.51 2524.54 L763.51 2515.74 L755.51 2524.54 L752.71 2522.94Z"/>
<path fill="#4DBEEE" d="M783.32 2506.27H787.32V2599.86H783.32Z M785.72 2491.77 L796.52 2522.27 L793.72 2523.87 L785.72 2515.07 L777.72 2523.87 L774.92 2522.27Z"/>
<path fill="#FF6A24" d="M814.42 2503.78H818.42V2596.85H814.42Z M816.82 2489.28 L827.62 2519.78 L824.82 2521.38 L816.82 2512.58 L808.82 2521.38 L806.02 2519.78Z"/>
<path fill="#B347FF" d="M845.52 2497.14H849.52V2590.08H845.52Z M847.92 2482.64 L858.72 2513.14 L855.92 2514.74 L847.92 2505.94 L839.92 2514.74 L837.12 2513.14Z"/>
<path fill="#336699" d="M872.18 2484.67H876.18V2577.06H872.18Z M874.58 2470.17 L885.38 2500.67 L882.58 2502.27 L874.58 2493.47 L866.58 2502.27 L863.78 2500.67Z"/>
<path fill="#000" d="M885.76 2474.7H889.26V2594.37H885.76Z M887.91 2460.2 L898.71 2490.7 L895.91 2492.3 L887.91 2483.5 L879.91 2492.3 L877.11 2490.7Z"/>
<path fill="#000" d="M890.2 2470.67H893.7V2590.34H890.2Z M892.35 2456.17 L903.15 2486.67 L900.35 2488.27 L892.35 2479.47 L884.35 2488.27 L881.55 2486.67Z"/>
<path fill="#8B4513" d="M903.28 2456.12H907.28V2548.92H903.28Z M905.68 2441.62 L916.48 2472.12 L913.68 2473.72 L905.68 2464.92 L897.68 2473.72 L894.88 2472.12Z"/>
<path fill="#000" d="M916.86 2437.39H920.36V2557.06H916.86Z M919.01 2422.89 L929.81 2453.39 L927.01 2454.99 L919.01 2446.19 L911.01 2454.99 L908.21 2453.39Z"/>
<path fill="#000" d="M921.3 2430.13H924.8V2549.79H921.3Z M923.45 2415.63 L934.25 2446.13 L931.45 2447.73 L923.45 2438.93 L915.45 2447.73 L912.65 2446.13Z"/>
<path fill="#EE82EE" d="M929.94 2413.96H933.94V2506.56H929.94Z M932.34 2399.46 L943.14 2429.96 L940.34 2431.56 L932.34 2422.76 L924.34 2431.56 L921.54 2429.96Z"/>
<path fill="#000" d="M943.52 2385.45H947.02V2505.12H943.52Z M945.67 2370.95 L956.47 2401.45 L953.67 2403.05 L945.67 2394.25 L937.67 2403.05 L934.87 2401.45Z"/>
<path fill="#215E4C" d="M956.6 2351.79H960.6V2444.43H956.6Z M959 2337.29 L969.8 2367.79 L967 2369.39 L959 2360.59 L951 2369.39 L948.2 2367.79Z"/>
<path fill="#000" d="M970.17 2313.25H973.67V2432.92H970.17Z M972.32 2298.75 L983.12 2329.25 L980.32 2330.85 L972.32 2322.05 L964.32 2330.85 L961.52 2329.25Z"/>
<path fill="#000" d="M979.06 2285.19H982.56V2404.86H979.06Z M981.21 2270.69 L992.01 2301.19 L989.21 2302.79 L981.21 2293.99 L973.21 2302.79 L970.41 2301.19Z"/>
<path fill="#000" d="M987.95 2255.61H991.45V2375.27H987.95Z M990.1 2241.11 L1000.9 2271.61 L998.1 2273.21 L990.1 2264.41 L982.1 2273.21 L979.3 2271.61Z"/>
<path fill="#000" d="M996.83 2224.92H1000.33V2344.59H996.83Z M998.98 2210.42 L1009.78 2240.92 L1006.98 2242.52 L998.98 2233.72 L990.98 2242.52 L988.18 2240.92Z"/>
<path fill="#000" d="M1005.72 2193.64H1009.22V2313.31H1005.72Z M1007.87 2179.14 L1018.67 2209.64 L1015.87 2211.24 L1007.87 2202.44 L999.87 2211.24 L997.07 2209.64Z"/>
<path fill="#000" d="M1014.6 2162.38H1018.1V2282.04H1014.6Z M1016.75 2147.88 L1027.55 2178.38 L1024.75 2179.98 L1016.75 2171.18 L1008.75 2179.98 L1005.95 2178.38Z"/>
<path fill="#000" d="M1023.49 2131.77H1026.99V2251.43H1023.49Z M1025.64 2117.27 L1036.44 2147.77 L1033.64 2149.37 L1025.64 2140.57 L1017.64 2149.37 L1014.84 2147.77Z"/>
<path fill="#000" d="M1032.37 2102.51H1035.87V2222.18H1032.37Z M1034.52 2088.01 L1045.32 2118.51 L1042.52 2120.11 L1034.52 2111.31 L1026.52 2120.11 L1023.72 2118.51Z"/>
<path fill="#000" d="M1041.26 2075.32H1044.76V2194.99H1041.26Z M1043.41 2060.82 L1054.21 2091.32 L1051.41 2092.92 L1043.41 2084.12 L1035.41 2092.92 L1032.61 2091.32Z"/>
<path fill="#000" d="M1050.15 2050.89H1053.65V2170.56H1050.15Z M1052.3 2036.39 L1063.1 2066.89 L1060.3 2068.49 L1052.3 2059.69 L1044.3 2068.49 L1041.5 2066.89Z"/>
<path fill="#000" d="M1059.03 2029.88H1062.53V2149.54H1059.03Z M1061.18 2015.38 L1071.98 2045.88 L1069.18 2047.48 L1061.18 2038.68 L1053.18 2047.48 L1050.38 2045.88Z"/>
<path fill="#000" d="M1067.92 2012.87H1071.42V2132.53H1067.92Z M1070.07 1998.37 L1080.87 2028.87 L1078.07 2030.47 L1070.07 2021.67 L1062.07 2030.47 L1059.27 2028.87Z"/>
<path fill="#000" d="M1076.8 2000.35H1080.3V2120.01H1076.8Z M1078.95 1985.85 L1089.75 2016.35 L1086.95 2017.95 L1078.95 2009.15 L1070.95 2017.95 L1068.15 2016.35Z"/>
<path fill="#000" d="M1085.69 1992.68H1089.19V2112.35H1085.69Z M1087.84 1978.18 L1098.64 2008.68 L1095.84 2010.28 L1087.84 2001.48 L1079.84 2010.28 L1077.04 2008.68Z"/>
<path fill="#000" d="M1094.57 1990.1H1098.07V2109.77H1094.57Z M1096.72 1975.6 L1107.52 2006.1 L1104.72 2007.7 L1096.72 1998.9 L1088.72 2007.7 L1085.92 2006.1Z"/>
<path fill="#000" d="M1103.46 1992.68H1106.96V2112.35H1103.46Z M1105.61 1978.18 L1116.41 2008.68 L1113.61 2010.28 L1105.61 2001.48 L1097.61 2010.28 L1094.81 2008.68Z"/>
<path fill="#000" d="M1112.35 2000.35H1115.85V2120.01H1112.35Z M1114.5 1985.85 L1125.3 2016.35 L1122.5 2017.95 L1114.5 2009.15 L1106.5 2017.95 L1103.7 2016.35Z"/>
<path fill="#000" d="M1121.23 2012.87H1124.73V2132.53H1121.23Z M1123.38 1998.37 L1134.18 2028.87 L1131.38 2030.47 L1123.38 2021.67 L1115.38 2030.47 L1112.58 2028.87Z"/>
<path fill="#000" d="M1130.12 2029.88H1133.62V2149.54H1130.12Z M1132.27 2015.38 L1143.07 2045.88 L1140.27 2047.48 L1132.27 2038.68 L1124.27 2047.48 L1121.47 2045.88Z"/>
<path fill="#000" d="M1139 2050.89H1142.5V2170.56H1139Z M1141.15 2036.39 L1151.95 2066.89 L1149.15 2068.49 L1141.15 2059.69 L1133.15 2068.49 L1130.35 2066.89Z"/>
<path fill="#000" d="M1147.89 2075.32H1151.39V2194.99H1147.89Z M1150.04 2060.82 L1160.84 2091.32 L1158.04 2092.92 L1150.04 2084.12 L1142.04 2092.92 L1139.24 2091.32Z"/>
<path fill="#000" d="M1156.78 2102.51H1160.28V2222.18H1156.78Z M1158.93 2088.01 L1169.73 2118.51 L1166.93 2120.11 L1158.93 2111.31 L1150.93 2120.11 L1148.13 2118.51Z"/>
<path fill="#000" d="M1165.66 2131.77H1169.16V2251.43H1165.66Z M1167.81 2117.27 L1178.61 2147.77 L1175.81 2149.37 L1167.81 2140.57 L1159.81 2149.37 L1157.01 2147.77Z"/>
<path fill="#000" d="M1174.55 2162.38H1178.05V2282.04H1174.55Z M1176.7 2147.88 L1187.5 2178.38 L1184.7 2179.98 L1176.7 2171.18 L1168.7 2179.98 L1165.9 2178.38Z"/>
<path fill="#000" d="M1183.43 2193.64H1186.93V2313.31H1183.43Z M1185.58 2179.14 L1196.38 2209.64 L1193.58 2211.24 L1185.58 2202.44 L1177.58 2211.24 L1174.78 2209.64Z"/>
<path fill="#000" d="M1192.32 2224.92H1195.82V2344.59H1192.32Z M1194.47 2210.42 L1205.27 2240.92 L1202.47 2242.52 L1194.47 2233.72 L1186.47 2242.52 L1183.67 2240.92Z"/>
<path fill="#000" d="M1201.2 2255.61H1204.7V2375.27H1201.2Z M1203.35 2241.11 L1214.15 2271.61 L1211.35 2273.21 L1203.35 2264.41 L1195.35 2273.21 L1192.55 2271.61Z"/>
<path fill="#000" d="M1210.09 2285.19H1213.59V2404.86H1210.09Z M1212.24 2270.69 L1223.04 2301.19 L1220.24 2302.79 L1212.24 2293.99 L1204.24 2302.79 L1201.44 2301.19Z"/>
<path fill="#000" d="M1218.98 2313.25H1222.48V2432.92H1218.98Z M1221.13 2298.75 L1231.93 2329.25 L1229.13 2330.85 L1221.13 2322.05 L1213.13 2330.85 L1210.33 2329.25Z"/>
<path fill="#5C4033" d="M1232.05 2351.79H1236.05V2444.43H1232.05Z M1234.45 2337.29 L1245.25 2367.79 L1242.45 2369.39 L1234.45 2360.59 L1226.45 2369.39 L1223.65 2367.79Z"/>
<path fill="#000" d="M1245.63 2385.45H1249.13V2505.12H1245.63Z M1247.78 2370.95 L1258.58 2401.45 L1255.78 2403.05 L1247.78 2394.25 L1239.78 2403.05 L1236.98 2401.45Z"/>
<path fill="#CC0000" d="M1258.71 2413.96H1262.71V2506.56H1258.71Z M1261.11 2399.46 L1271.91 2429.96 L1269.11 2431.56 L1261.11 2422.76 L1253.11 2431.56 L1250.31 2429.96Z"/>
<path fill="#000" d="M1267.85 2430.13H1271.35V2549.79H1267.85Z M1270 2415.63 L1280.8 2446.13 L1278 2447.73 L1270 2438.93 L1262 2447.73 L1259.2 2446.13Z"/>
<path fill="#000" d="M1272.29 2437.39H1275.79V2557.06H1272.29Z M1274.44 2422.89 L1285.24 2453.39 L1282.44 2454.99 L1274.44 2446.19 L1266.44 2454.99 L1263.64 2453.39Z"/>
<path fill="#0000CC" d="M1285.37 2456.12H1289.37V2548.92H1285.37Z M1287.77 2441.62 L1298.57 2472.12 L1295.77 2473.72 L1287.77 2464.92 L1279.77 2473.72 L1276.97 2472.12Z"/>
<path fill="#000" d="M1298.95 2470.67H1302.45V2590.34H1298.95Z M1301.1 2456.17 L1311.9 2486.67 L1309.1 2488.27 L1301.1 2479.47 L1293.1 2488.27 L1290.3 2486.67Z"/>
<path fill="#000" d="M1303.39 2474.7H1306.89V2594.37H1303.39Z M1305.54 2460.2 L1316.34 2490.7 L1313.54 2492.3 L1305.54 2483.5 L1297.54 2492.3 L1294.74 2490.7Z"/>
<path fill="#009900" d="M1316.47 2484.67H1320.47V2577.06H1316.47Z M1318.87 2470.17 L1329.67 2500.67 L1326.87 2502.27 L1318.87 2493.47 L1310.87 2502.27 L1308.07 2500.67Z"/>
<path fill="#F2669A" d="M1343.13 2497.14H1347.13V2590.08H1343.13Z M1345.53 2482.64 L1356.33 2513.14 L1353.53 2514.74 L1345.53 2505.94 L1337.53 2514.74 L1334.73 2513.14Z"/>
<path fill="#009999" d="M1374.23 2503.78H1378.23V2596.85H1374.23Z M1376.63 2489.28 L1387.43 2519.78 L1384.63 2521.38 L1376.63 2512.58 L1368.63 2521.38 L1365.83 2519.78Z"/>
<path fill="#964B00" d="M1405.33 2506.27H1409.33V2599.86H1405.33Z M1407.73 2491.77 L1418.53 2522.27 L1415.73 2523.87 L1407.73 2515.07 L1399.73 2523.87 L1396.93 2522.27Z"/>
<path fill="#EDB120" d="M1427.54 2506.94H1431.54V2600.65H1427.54Z M1429.94 2492.44 L1440.74 2522.94 L1437.94 2524.54 L1429.94 2515.74 L1421.94 2524.54 L1419.14 2522.94Z"/>
<path fill="#808000" d="M1458.64 2507.28H1462.64V2600.96H1458.64Z M1461.04 2492.78 L1471.84 2523.28 L1469.04 2524.88 L1461.04 2516.08 L1453.04 2524.88 L1450.24 2523.28Z"/>
<path fill="#800000" d="M1494.18 2507.38H1498.18V2601.11H1494.18Z M1496.58 2492.88 L1507.38 2523.38 L1504.58 2524.98 L1496.58 2516.18 L1488.58 2524.98 L1485.78 2523.38Z"/>
<path fill="#000" d="M1512.21 2507.39H1515.71V2627.06H1512.21Z M1514.36 2492.89 L1525.16 2523.39 L1522.36 2524.99 L1514.36 2516.19 L1506.36 2524.99 L1503.56 2523.39Z"/>
<path fill="#000" d="M1521.09 2507.39H1524.59V2627.06H1521.09Z M1523.24 2492.89 L1534.04 2523.39 L1531.24 2524.99 L1523.24 2516.19 L1515.24 2524.99 L1512.44 2523.39Z"/>
<path fill="#F4C2C2" d="M1565.27 2507.4H1569.27V2601.13H1565.27Z M1567.67 2492.9 L1578.47 2523.4 L1575.67 2525 L1567.67 2516.2 L1559.67 2525 L1556.87 2523.4Z"/>
<path fill="#9ACD32" d="M1614.14 2507.4H1618.14V2601.13H1614.14Z M1616.54 2492.9 L1627.34 2523.4 L1624.54 2525 L1616.54 2516.2 L1608.54 2525 L1605.74 2523.4Z"/>
<path fill="#708090" d="M1645.24 2507.4H1649.24V2601.13H1645.24Z M1647.64 2492.9 L1658.44 2523.4 L1655.64 2525 L1647.64 2516.2 L1639.64 2525 L1636.84 2523.4Z"/>
<path fill="#6600B3" d="M1694.11 2507.4H1698.11V2601.13H1694.11Z M1696.51 2492.9 L1707.31 2523.4 L1704.51 2525 L1696.51 2516.2 L1688.51 2525 L1685.71 2523.4Z"/>
<path fill="#005B5B" d="M1729.66 2507.4H1733.66V2601.13H1729.66Z M1732.06 2492.9 L1742.86 2523.4 L1740.06 2525 L1732.06 2516.2 L1724.06 2525 L1721.26 2523.4Z"/>
<path fill="#B03060" d="M1747.43 2507.4H1751.43V2601.13H1747.43Z M1749.83 2492.9 L1760.63 2523.4 L1757.83 2525 L1749.83 2516.2 L1741.83 2525 L1739.03 2523.4Z"/>
<path fill="#4DBEEE" d="M1765.2 2507.4H1769.2V2601.13H1765.2Z M1767.6 2492.9 L1778.4 2523.4 L1775.6 2525 L1767.6 2516.2 L1759.6 2525 L1756.8 2523.4Z"/>
<path fill="#000" d="M1778.78 2507.4H1782.28V2627.07H1778.78Z M1780.93 2492.9 L1791.73 2523.4 L1788.93 2525 L1780.93 2516.2 L1772.93 2525 L1770.13 2523.4Z"/>
<path fill="#000" d="M1783.22 2507.4H1786.72V2627.07H1783.22Z M1785.37 2492.9 L1796.17 2523.4 L1793.37 2525 L1785.37 2516.2 L1777.37 2525 L1774.57 2523.4Z"/>
<path fill="#000" d="M1787.66 2507.4H1791.16V2627.07H1787.66Z M1789.81 2492.9 L1800.61 2523.4 L1797.81 2525 L1789.81 2516.2 L1781.81 2525 L1779.01 2523.4Z"/>
<path fill="#FF6A24" d="M1822.96 2507.4H1826.96V2601.13H1822.96Z M1825.36 2492.9 L1836.16 2523.4 L1833.36 2525 L1825.36 2516.2 L1817.36 2525 L1814.56 2523.4Z"/>
<path fill="#000" d="M1858.75 2507.4H1862.25V2627.07H1858.75Z M1860.9 2492.9 L1871.7 2523.4 L1868.9 2525 L1860.9 2516.2 L1852.9 2525 L1850.1 2523.4Z"/>
<path fill="#B347FF" d="M1871.83 2507.4H1875.83V2601.13H1871.83Z M1874.23 2492.9 L1885.03 2523.4 L1882.23 2525 L1874.23 2516.2 L1866.23 2525 L1863.43 2523.4Z"/>
<path fill="#000" d="M1885.41 2507.4H1888.91V2627.07H1885.41Z M1887.56 2492.9 L1898.36 2523.4 L1895.56 2525 L1887.56 2516.2 L1879.56 2525 L1876.76 2523.4Z"/>
<path fill="#000" d="M1894.29 2507.4H1897.79V2627.07H1894.29Z M1896.44 2492.9 L1907.24 2523.4 L1904.44 2525 L1896.44 2516.2 L1888.44 2525 L1885.64 2523.4Z"/>
<path fill="#336699" d="M1911.81 2507.4H1915.81V2601.13H1911.81Z M1914.21 2492.9 L1925.01 2523.4 L1922.21 2525 L1914.21 2516.2 L1906.21 2525 L1903.41 2523.4Z"/>
<path fill="#8B4513" d="M1934.03 2507.4H1938.03V2601.13H1934.03Z M1936.43 2492.9 L1947.23 2523.4 L1944.43 2525 L1936.43 2516.2 L1928.43 2525 L1925.63 2523.4Z"/>
<path fill="#000" d="M1947.61 2507.4H1951.11V2627.07H1947.61Z M1949.76 2492.9 L1960.56 2523.4 L1957.76 2525 L1949.76 2516.2 L1941.76 2525 L1938.96 2523.4Z"/>
<path fill="#000" d="M1956.49 2507.4H1959.99V2627.07H1956.49Z M1958.64 2492.9 L1969.44 2523.4 L1966.64 2525 L1958.64 2516.2 L1950.64 2525 L1947.84 2523.4Z"/>
<path fill="#000" d="M1965.38 2507.4H1968.88V2627.07H1965.38Z M1967.53 2492.9 L1978.33 2523.4 L1975.53 2525 L1967.53 2516.2 L1959.53 2525 L1956.73 2523.4Z"/>
<path fill="#EE82EE" d="M1978.46 2507.4H1982.46V2601.13H1978.46Z M1980.86 2492.9 L1991.66 2523.4 L1988.86 2525 L1980.86 2516.2 L1972.86 2525 L1970.06 2523.4Z"/>
</g>
<rect x="1602.7" y="1928.9" width="318.5" height="79.8" fill="#fff" stroke="#1a1a1a" stroke-width="2.2"/>
<circle cx="1649.2" cy="1950.8" r="3.6" fill="#000"/>
<rect x="1640.2" y="1977.9" width="18" height="18" fill="#000"/>
<g font-family="'Liberation Serif','Times New Roman',Times,serif" font-size="30" fill="#000">
<text x="1694" y="1961.7" textLength="218.5" lengthAdjust="spacingAndGlyphs">Syntactic samples</text>
<text x="1694" y="1997.7" textLength="218.5" lengthAdjust="spacingAndGlyphs">Semantic samples</text>
</g>
<g font-family="'Liberation Serif','Times New Roman',Times,serif" font-size="32" fill="#262626">
<text x="208.15" y="2731.5" text-anchor="middle" textLength="40.52" lengthAdjust="spacingAndGlyphs">-10</text>
<text x="385.87" y="2731.5" text-anchor="middle" textLength="25.32" lengthAdjust="spacingAndGlyphs">-8</text>
<text x="563.58" y="2731.5" text-anchor="middle" textLength="25.32" lengthAdjust="spacingAndGlyphs">-6</text>
<text x="741.29" y="2731.5" text-anchor="middle" textLength="25.32" lengthAdjust="spacingAndGlyphs">-4</text>
<text x="919.01" y="2731.5" text-anchor="middle" textLength="25.32" lengthAdjust="spacingAndGlyphs">-2</text>
<text x="1096.72" y="2731.5" text-anchor="middle" textLength="15.2" lengthAdjust="spacingAndGlyphs">0</text>
<text x="1274.44" y="2731.5" text-anchor="middle" textLength="15.2" lengthAdjust="spacingAndGlyphs">2</text>
<text x="1452.15" y="2731.5" text-anchor="middle" textLength="15.2" lengthAdjust="spacingAndGlyphs">4</text>
<text x="1629.87" y="2731.5" text-anchor="middle" textLength="15.2" lengthAdjust="spacingAndGlyphs">6</text>
<text x="1807.58" y="2731.5" text-anchor="middle" textLength="15.2" lengthAdjust="spacingAndGlyphs">8</text>
<text x="1985.3" y="2731.5" text-anchor="middle" textLength="30.4" lengthAdjust="spacingAndGlyphs">10</text>
<text x="197.5" y="2639.07" text-anchor="end" textLength="15.2" lengthAdjust="spacingAndGlyphs">0</text>
<text x="197.5" y="2509.4" text-anchor="end" textLength="38" lengthAdjust="spacingAndGlyphs">0.1</text>
<text x="197.5" y="2379.73" text-anchor="end" textLength="38" lengthAdjust="spacingAndGlyphs">0.2</text>
<text x="197.5" y="2250.07" text-anchor="end" textLength="38" lengthAdjust="spacingAndGlyphs">0.3</text>
<text x="197.5" y="2120.4" text-anchor="end" textLength="38" lengthAdjust="spacingAndGlyphs">0.4</text>
<text x="197.5" y="1990.73" text-anchor="end" textLength="38" lengthAdjust="spacingAndGlyphs">0.5</text>
</g>
<text x="1096.6" y="2774.1" text-anchor="middle" font-family="'Liberation Serif','Times New Roman',Times,serif" font-size="35.5" fill="#262626" textLength="203" lengthAdjust="spacingAndGlyphs">Sample Points</text>
<text transform="translate(143.8 2303.2) rotate(-90)" text-anchor="middle" font-family="'Liberation Serif','Times New Roman',Times,serif" font-size="35.5" fill="#262626" textLength="418" lengthAdjust="spacingAndGlyphs">Gaussian Probability Density</text>
</g>
<g id="plotC" shape-rendering="crispEdges">
<clipPath id="clipC"><rect x="206.95" y="3099.1" width="1779.55" height="780"/></clipPath>
<g stroke="#DEDEDE" stroke-width="2.1" fill="none">
<line x1="385.87" y1="3100.1" x2="385.87" y2="3878.1"/>
<line x1="563.58" y1="3100.1" x2="563.58" y2="3878.1"/>
<line x1="741.29" y1="3100.1" x2="741.29" y2="3878.1"/>
<line x1="919.01" y1="3100.1" x2="919.01" y2="3878.1"/>
<line x1="1096.72" y1="3100.1" x2="1096.72" y2="3878.1"/>
<line x1="1274.44" y1="3100.1" x2="1274.44" y2="3878.1"/>
<line x1="1452.15" y1="3100.1" x2="1452.15" y2="3878.1"/>
<line x1="1629.87" y1="3100.1" x2="1629.87" y2="3878.1"/>
<line x1="1807.58" y1="3100.1" x2="1807.58" y2="3878.1"/>
<line x1="208.15" y1="3813.27" x2="1985.3" y2="3813.27"/>
<line x1="208.15" y1="3683.6" x2="1985.3" y2="3683.6"/>
<line x1="208.15" y1="3553.93" x2="1985.3" y2="3553.93"/>
<line x1="208.15" y1="3424.27" x2="1985.3" y2="3424.27"/>
<line x1="208.15" y1="3294.6" x2="1985.3" y2="3294.6"/>
<line x1="208.15" y1="3164.93" x2="1985.3" y2="3164.93"/>
</g>
<rect x="208" y="3100" width="1777" height="778" fill="none" stroke="#1a1a1a" stroke-width="2"/>
<g stroke="#1a1a1a" stroke-width="2" fill="none">
<line x1="385.87" y1="3878.1" x2="385.87" y2="3860.1"/>
<line x1="385.87" y1="3100.1" x2="385.87" y2="3118.1"/>
<line x1="563.58" y1="3878.1" x2="563.58" y2="3860.1"/>
<line x1="563.58" y1="3100.1" x2="563.58" y2="3118.1"/>
<line x1="741.29" y1="3878.1" x2="741.29" y2="3860.1"/>
<line x1="741.29" y1="3100.1" x2="741.29" y2="3118.1"/>
<line x1="919.01" y1="3878.1" x2="919.01" y2="3860.1"/>
<line x1="919.01" y1="3100.1" x2="919.01" y2="3118.1"/>
<line x1="1096.72" y1="3878.1" x2="1096.72" y2="3860.1"/>
<line x1="1096.72" y1="3100.1" x2="1096.72" y2="3118.1"/>
<line x1="1274.44" y1="3878.1" x2="1274.44" y2="3860.1"/>
<line x1="1274.44" y1="3100.1" x2="1274.44" y2="3118.1"/>
<line x1="1452.15" y1="3878.1" x2="1452.15" y2="3860.1"/>
<line x1="1452.15" y1="3100.1" x2="1452.15" y2="3118.1"/>
<line x1="1629.87" y1="3878.1" x2="1629.87" y2="3860.1"/>
<line x1="1629.87" y1="3100.1" x2="1629.87" y2="3118.1"/>
<line x1="1807.58" y1="3878.1" x2="1807.58" y2="3860.1"/>
<line x1="1807.58" y1="3100.1" x2="1807.58" y2="3118.1"/>
<line x1="208.15" y1="3813.27" x2="226.15" y2="3813.27"/>
<line x1="1985.3" y1="3813.27" x2="1967.3" y2="3813.27"/>
<line x1="208.15" y1="3683.6" x2="226.15" y2="3683.6"/>
<line x1="1985.3" y1="3683.6" x2="1967.3" y2="3683.6"/>
<line x1="208.15" y1="3553.93" x2="226.15" y2="3553.93"/>
<line x1="1985.3" y1="3553.93" x2="1967.3" y2="3553.93"/>
<line x1="208.15" y1="3424.27" x2="226.15" y2="3424.27"/>
<line x1="1985.3" y1="3424.27" x2="1967.3" y2="3424.27"/>
<line x1="208.15" y1="3294.6" x2="226.15" y2="3294.6"/>
<line x1="1985.3" y1="3294.6" x2="1967.3" y2="3294.6"/>
<line x1="208.15" y1="3164.93" x2="226.15" y2="3164.93"/>
<line x1="1985.3" y1="3164.93" x2="1967.3" y2="3164.93"/>
</g>
<g clip-path="url(#clipC)" fill="none" stroke-width="3.8" stroke-dasharray="16 8.4">
<path stroke="#CC0000" d="M208.1 3806.4Q237 3765.1 265.9 3813.3"/>
<path stroke="#CC0000" d="M208.1 3820.1Q237 3861.4 265.9 3813.3"/>
<path stroke="#0000CC" d="M274.8 3813.3Q470.3 3761.4 665.8 3813.3"/>
<path stroke="#0000CC" d="M274.8 3813.3Q470.3 3865.1 665.8 3813.3"/>
<path stroke="#009900" d="M665.8 3813.3Q723.5 3760.9 781.3 3812.3"/>
<path stroke="#009900" d="M665.8 3813.3Q723.5 3864.7 781.3 3812.3"/>
<path stroke="#F2669A" d="M781.3 3812.3Q799.1 3759.1 816.8 3809.6"/>
<path stroke="#F2669A" d="M781.3 3812.3Q799.1 3862.8 816.8 3809.6"/>
<path stroke="#009999" d="M816.8 3809.6Q861.3 3733.9 905.7 3762"/>
<path stroke="#009999" d="M816.8 3809.6Q861.3 3837.7 905.7 3762"/>
<path stroke="#964B00" d="M923.5 3736Q932.3 3666.8 941.2 3701.4"/>
<path stroke="#964B00" d="M923.5 3736Q932.3 3770.6 941.2 3701.4"/>
<path stroke="#EDB120" d="M941.2 3701.4Q950.1 3627.7 959 3657.7"/>
<path stroke="#EDB120" d="M941.2 3701.4Q950.1 3731.4 959 3657.7"/>
<path stroke="#808000" d="M1234.5 3657.7Q1243.3 3627.7 1252.2 3701.4"/>
<path stroke="#808000" d="M1234.5 3657.7Q1243.3 3731.4 1252.2 3701.4"/>
<path stroke="#800000" d="M1252.2 3701.4Q1261.1 3666.8 1270 3736"/>
<path stroke="#800000" d="M1252.2 3701.4Q1261.1 3770.6 1270 3736"/>
<path stroke="#F4C2C2" d="M1287.8 3762Q1332.2 3733.9 1376.6 3809.6"/>
<path stroke="#F4C2C2" d="M1287.8 3762Q1332.2 3837.7 1376.6 3809.6"/>
<path stroke="#9ACD32" d="M1376.6 3809.6Q1394.4 3759.1 1412.2 3812.3"/>
<path stroke="#9ACD32" d="M1376.6 3809.6Q1394.4 3862.8 1412.2 3812.3"/>
<path stroke="#708090" d="M1412.2 3812.3Q1469.9 3760.9 1527.7 3813.3"/>
<path stroke="#708090" d="M1412.2 3812.3Q1469.9 3864.7 1527.7 3813.3"/>
<path stroke="#6600B3" d="M1527.7 3813.3Q1723.2 3761.4 1918.7 3813.3"/>
<path stroke="#6600B3" d="M1527.7 3813.3Q1723.2 3865.1 1918.7 3813.3"/>
<path stroke="#005B5B" d="M1927.5 3813.3Q1956.4 3765.1 1985.3 3806.4"/>
<path stroke="#005B5B" d="M1927.5 3813.3Q1956.4 3861.4 1985.3 3820.1"/>
</g>
<g fill="#000">
<circle cx="208.15" cy="3813.27" r="3.6"/>
<circle cx="217.04" cy="3813.27" r="3.6"/>
<circle cx="225.92" cy="3813.27" r="3.6"/>
<circle cx="234.81" cy="3813.27" r="3.6"/>
<circle cx="243.69" cy="3813.27" r="3.6"/>
<circle cx="252.58" cy="3813.27" r="3.6"/>
<circle cx="261.46" cy="3813.27" r="3.6"/>
<circle cx="270.35" cy="3813.27" r="3.6"/>
<circle cx="279.24" cy="3813.27" r="3.6"/>
<circle cx="288.12" cy="3813.27" r="3.6"/>
<circle cx="297.01" cy="3813.27" r="3.6"/>
<circle cx="305.89" cy="3813.27" r="3.6"/>
<circle cx="314.78" cy="3813.27" r="3.6"/>
<circle cx="323.66" cy="3813.27" r="3.6"/>
<circle cx="332.55" cy="3813.27" r="3.6"/>
<circle cx="341.44" cy="3813.27" r="3.6"/>
<circle cx="350.32" cy="3813.27" r="3.6"/>
<circle cx="359.21" cy="3813.27" r="3.6"/>
<circle cx="368.09" cy="3813.27" r="3.6"/>
<circle cx="376.98" cy="3813.27" r="3.6"/>
<circle cx="385.87" cy="3813.27" r="3.6"/>
<circle cx="394.75" cy="3813.27" r="3.6"/>
<circle cx="403.64" cy="3813.27" r="3.6"/>
<circle cx="412.52" cy="3813.27" r="3.6"/>
<circle cx="421.41" cy="3813.27" r="3.6"/>
<circle cx="430.29" cy="3813.27" r="3.6"/>
<circle cx="439.18" cy="3813.27" r="3.6"/>
<circle cx="448.07" cy="3813.27" r="3.6"/>
<circle cx="456.95" cy="3813.27" r="3.6"/>
<circle cx="465.84" cy="3813.27" r="3.6"/>
<circle cx="474.72" cy="3813.27" r="3.6"/>
<circle cx="483.61" cy="3813.27" r="3.6"/>
<circle cx="492.49" cy="3813.27" r="3.6"/>
<circle cx="501.38" cy="3813.27" r="3.6"/>
<circle cx="510.27" cy="3813.27" r="3.6"/>
<circle cx="519.15" cy="3813.27" r="3.6"/>
<circle cx="528.04" cy="3813.27" r="3.6"/>
<circle cx="536.92" cy="3813.27" r="3.6"/>
<circle cx="545.81" cy="3813.27" r="3.6"/>
<circle cx="554.69" cy="3813.27" r="3.6"/>
<circle cx="563.58" cy="3813.27" r="3.6"/>
<circle cx="572.47" cy="3813.27" r="3.6"/>
<circle cx="581.35" cy="3813.27" r="3.6"/>
<circle cx="590.24" cy="3813.27" r="3.6"/>
<circle cx="599.12" cy="3813.27" r="3.6"/>
<circle cx="608.01" cy="3813.27" r="3.6"/>
<circle cx="616.89" cy="3813.27" r="3.6"/>
<circle cx="625.78" cy="3813.27" r="3.6"/>
<circle cx="634.67" cy="3813.27" r="3.6"/>
<circle cx="643.55" cy="3813.27" r="3.6"/>
<circle cx="652.44" cy="3813.26" r="3.6"/>
<circle cx="661.32" cy="3813.26" r="3.6"/>
<circle cx="670.21" cy="3813.26" r="3.6"/>
<circle cx="679.09" cy="3813.26" r="3.6"/>
<circle cx="687.98" cy="3813.25" r="3.6"/>
<circle cx="696.87" cy="3813.25" r="3.6"/>
<circle cx="705.75" cy="3813.23" r="3.6"/>
<circle cx="714.64" cy="3813.22" r="3.6"/>
<circle cx="723.52" cy="3813.19" r="3.6"/>
<circle cx="732.41" cy="3813.15" r="3.6"/>
<circle cx="741.29" cy="3813.09" r="3.6"/>
<circle cx="750.18" cy="3813.01" r="3.6"/>
<circle cx="759.07" cy="3812.89" r="3.6"/>
<circle cx="767.95" cy="3812.72" r="3.6"/>
<circle cx="776.84" cy="3812.47" r="3.6"/>
<circle cx="785.72" cy="3812.14" r="3.6"/>
<circle cx="794.61" cy="3811.67" r="3.6"/>
<circle cx="803.5" cy="3811.03" r="3.6"/>
<circle cx="812.38" cy="3810.18" r="3.6"/>
<circle cx="821.27" cy="3809.03" r="3.6"/>
<circle cx="830.15" cy="3807.52" r="3.6"/>
<circle cx="839.04" cy="3805.55" r="3.6"/>
<circle cx="847.92" cy="3803" r="3.6"/>
<circle cx="856.81" cy="3799.75" r="3.6"/>
<circle cx="865.7" cy="3795.65" r="3.6"/>
<circle cx="874.58" cy="3790.54" r="3.6"/>
<circle cx="883.47" cy="3784.23" r="3.6"/>
<circle cx="892.35" cy="3776.54" r="3.6"/>
<circle cx="901.24" cy="3767.27" r="3.6"/>
<circle cx="910.12" cy="3756.23" r="3.6"/>
<circle cx="919.01" cy="3743.26" r="3.6"/>
<circle cx="927.9" cy="3728.18" r="3.6"/>
<circle cx="936.78" cy="3710.89" r="3.6"/>
<circle cx="945.67" cy="3691.32" r="3.6"/>
<circle cx="954.55" cy="3669.44" r="3.6"/>
<circle cx="963.44" cy="3645.33" r="3.6"/>
<circle cx="972.32" cy="3619.12" r="3.6"/>
<circle cx="981.21" cy="3591.06" r="3.6"/>
<circle cx="990.1" cy="3561.47" r="3.6"/>
<circle cx="998.98" cy="3530.79" r="3.6"/>
<circle cx="1007.87" cy="3499.51" r="3.6"/>
<circle cx="1016.75" cy="3468.24" r="3.6"/>
<circle cx="1025.64" cy="3437.63" r="3.6"/>
<circle cx="1034.52" cy="3408.38" r="3.6"/>
<circle cx="1043.41" cy="3381.19" r="3.6"/>
<circle cx="1052.3" cy="3356.76" r="3.6"/>
<circle cx="1061.18" cy="3335.74" r="3.6"/>
<circle cx="1070.07" cy="3318.73" r="3.6"/>
<circle cx="1078.95" cy="3306.21" r="3.6"/>
<circle cx="1087.84" cy="3298.55" r="3.6"/>
<circle cx="1096.72" cy="3295.97" r="3.6"/>
<circle cx="1105.61" cy="3298.55" r="3.6"/>
<circle cx="1114.5" cy="3306.21" r="3.6"/>
<circle cx="1123.38" cy="3318.73" r="3.6"/>
<circle cx="1132.27" cy="3335.74" r="3.6"/>
<circle cx="1141.15" cy="3356.76" r="3.6"/>
<circle cx="1150.04" cy="3381.19" r="3.6"/>
<circle cx="1158.93" cy="3408.38" r="3.6"/>
<circle cx="1167.81" cy="3437.63" r="3.6"/>
<circle cx="1176.7" cy="3468.24" r="3.6"/>
<circle cx="1185.58" cy="3499.51" r="3.6"/>
<circle cx="1194.47" cy="3530.79" r="3.6"/>
<circle cx="1203.35" cy="3561.47" r="3.6"/>
<circle cx="1212.24" cy="3591.06" r="3.6"/>
<circle cx="1221.13" cy="3619.12" r="3.6"/>
<circle cx="1230.01" cy="3645.33" r="3.6"/>
<circle cx="1238.9" cy="3669.44" r="3.6"/>
<circle cx="1247.78" cy="3691.32" r="3.6"/>
<circle cx="1256.67" cy="3710.89" r="3.6"/>
<circle cx="1265.55" cy="3728.18" r="3.6"/>
<circle cx="1274.44" cy="3743.26" r="3.6"/>
<circle cx="1283.33" cy="3756.23" r="3.6"/>
<circle cx="1292.21" cy="3767.27" r="3.6"/>
<circle cx="1301.1" cy="3776.54" r="3.6"/>
<circle cx="1309.98" cy="3784.23" r="3.6"/>
<circle cx="1318.87" cy="3790.54" r="3.6"/>
<circle cx="1327.75" cy="3795.65" r="3.6"/>
<circle cx="1336.64" cy="3799.75" r="3.6"/>
<circle cx="1345.53" cy="3803" r="3.6"/>
<circle cx="1354.41" cy="3805.55" r="3.6"/>
<circle cx="1363.3" cy="3807.52" r="3.6"/>
<circle cx="1372.18" cy="3809.03" r="3.6"/>
<circle cx="1381.07" cy="3810.18" r="3.6"/>
<circle cx="1389.95" cy="3811.03" r="3.6"/>
<circle cx="1398.84" cy="3811.67" r="3.6"/>
<circle cx="1407.73" cy="3812.14" r="3.6"/>
<circle cx="1416.61" cy="3812.47" r="3.6"/>
<circle cx="1425.5" cy="3812.72" r="3.6"/>
<circle cx="1434.38" cy="3812.89" r="3.6"/>
<circle cx="1443.27" cy="3813.01" r="3.6"/>
<circle cx="1452.15" cy="3813.09" r="3.6"/>
<circle cx="1461.04" cy="3813.15" r="3.6"/>
<circle cx="1469.93" cy="3813.19" r="3.6"/>
<circle cx="1478.81" cy="3813.22" r="3.6"/>
<circle cx="1487.7" cy="3813.23" r="3.6"/>
<circle cx="1496.58" cy="3813.25" r="3.6"/>
<circle cx="1505.47" cy="3813.25" r="3.6"/>
<circle cx="1514.36" cy="3813.26" r="3.6"/>
<circle cx="1523.24" cy="3813.26" r="3.6"/>
<circle cx="1532.13" cy="3813.26" r="3.6"/>
<circle cx="1541.01" cy="3813.26" r="3.6"/>
<circle cx="1549.9" cy="3813.27" r="3.6"/>
<circle cx="1558.78" cy="3813.27" r="3.6"/>
<circle cx="1567.67" cy="3813.27" r="3.6"/>
<circle cx="1576.56" cy="3813.27" r="3.6"/>
<circle cx="1585.44" cy="3813.27" r="3.6"/>
<circle cx="1594.33" cy="3813.27" r="3.6"/>
<circle cx="1603.21" cy="3813.27" r="3.6"/>
<circle cx="1612.1" cy="3813.27" r="3.6"/>
<circle cx="1620.98" cy="3813.27" r="3.6"/>
<circle cx="1629.87" cy="3813.27" r="3.6"/>
<circle cx="1638.76" cy="3813.27" r="3.6"/>
<circle cx="1647.64" cy="3813.27" r="3.6"/>
<circle cx="1656.53" cy="3813.27" r="3.6"/>
<circle cx="1665.41" cy="3813.27" r="3.6"/>
<circle cx="1674.3" cy="3813.27" r="3.6"/>
<circle cx="1683.18" cy="3813.27" r="3.6"/>
<circle cx="1692.07" cy="3813.27" r="3.6"/>
<circle cx="1700.96" cy="3813.27" r="3.6"/>
<circle cx="1709.84" cy="3813.27" r="3.6"/>
<circle cx="1718.73" cy="3813.27" r="3.6"/>
<circle cx="1727.61" cy="3813.27" r="3.6"/>
<circle cx="1736.5" cy="3813.27" r="3.6"/>
<circle cx="1745.38" cy="3813.27" r="3.6"/>
<circle cx="1754.27" cy="3813.27" r="3.6"/>
<circle cx="1763.16" cy="3813.27" r="3.6"/>
<circle cx="1772.04" cy="3813.27" r="3.6"/>
<circle cx="1780.93" cy="3813.27" r="3.6"/>
<circle cx="1789.81" cy="3813.27" r="3.6"/>
<circle cx="1798.7" cy="3813.27" r="3.6"/>
<circle cx="1807.58" cy="3813.27" r="3.6"/>
<circle cx="1816.47" cy="3813.27" r="3.6"/>
<circle cx="1825.36" cy="3813.27" r="3.6"/>
<circle cx="1834.24" cy="3813.27" r="3.6"/>
<circle cx="1843.13" cy="3813.27" r="3.6"/>
<circle cx="1852.01" cy="3813.27" r="3.6"/>
<circle cx="1860.9" cy="3813.27" r="3.6"/>
<circle cx="1869.79" cy="3813.27" r="3.6"/>
<circle cx="1878.67" cy="3813.27" r="3.6"/>
<circle cx="1887.56" cy="3813.27" r="3.6"/>
<circle cx="1896.44" cy="3813.27" r="3.6"/>
<circle cx="1905.33" cy="3813.27" r="3.6"/>
<circle cx="1914.21" cy="3813.27" r="3.6"/>
<circle cx="1923.1" cy="3813.27" r="3.6"/>
<circle cx="1931.99" cy="3813.27" r="3.6"/>
<circle cx="1940.87" cy="3813.27" r="3.6"/>
<circle cx="1949.76" cy="3813.27" r="3.6"/>
<circle cx="1958.64" cy="3813.27" r="3.6"/>
<circle cx="1967.53" cy="3813.27" r="3.6"/>
<circle cx="1976.41" cy="3813.27" r="3.6"/>
<circle cx="1985.3" cy="3813.27" r="3.6"/>
</g>
<g>
<rect x="225.81" y="3674.9" width="18" height="18" fill="#CC0000"/>
<rect x="261.35" y="3674.9" width="18" height="18" fill="#000"/>
<rect x="461.28" y="3674.9" width="18" height="18" fill="#0000CC"/>
<rect x="714.52" y="3674.82" width="18" height="18" fill="#009900"/>
<rect x="790.05" y="3673.01" width="18" height="18" fill="#F2669A"/>
<rect x="852.25" y="3659.45" width="18" height="18" fill="#009999"/>
<rect x="901.12" y="3617.87" width="18" height="18" fill="#000"/>
<rect x="910.01" y="3604.89" width="18" height="18" fill="#000"/>
<rect x="923.34" y="3581.46" width="18" height="18" fill="#964B00"/>
<rect x="941.11" y="3542.3" width="18" height="18" fill="#EDB120"/>
<rect x="954.44" y="3506.96" width="18" height="18" fill="#000"/>
<rect x="963.32" y="3480.75" width="18" height="18" fill="#000"/>
<rect x="972.21" y="3452.69" width="18" height="18" fill="#000"/>
<rect x="981.1" y="3423.11" width="18" height="18" fill="#000"/>
<rect x="989.98" y="3392.42" width="18" height="18" fill="#000"/>
<rect x="998.87" y="3361.14" width="18" height="18" fill="#000"/>
<rect x="1007.75" y="3329.88" width="18" height="18" fill="#000"/>
<rect x="1016.64" y="3299.27" width="18" height="18" fill="#000"/>
<rect x="1025.52" y="3270.01" width="18" height="18" fill="#000"/>
<rect x="1034.41" y="3242.82" width="18" height="18" fill="#000"/>
<rect x="1043.3" y="3218.39" width="18" height="18" fill="#000"/>
<rect x="1052.18" y="3197.38" width="18" height="18" fill="#000"/>
<rect x="1061.07" y="3180.37" width="18" height="18" fill="#000"/>
<rect x="1069.95" y="3167.85" width="18" height="18" fill="#000"/>
<rect x="1078.84" y="3160.18" width="18" height="18" fill="#000"/>
<rect x="1087.72" y="3157.6" width="18" height="18" fill="#000"/>
<rect x="1096.61" y="3160.18" width="18" height="18" fill="#000"/>
<rect x="1105.5" y="3167.85" width="18" height="18" fill="#000"/>
<rect x="1114.38" y="3180.37" width="18" height="18" fill="#000"/>
<rect x="1123.27" y="3197.38" width="18" height="18" fill="#000"/>
<rect x="1132.15" y="3218.39" width="18" height="18" fill="#000"/>
<rect x="1141.04" y="3242.82" width="18" height="18" fill="#000"/>
<rect x="1149.93" y="3270.01" width="18" height="18" fill="#000"/>
<rect x="1158.81" y="3299.27" width="18" height="18" fill="#000"/>
<rect x="1167.7" y="3329.88" width="18" height="18" fill="#000"/>
<rect x="1176.58" y="3361.14" width="18" height="18" fill="#000"/>
<rect x="1185.47" y="3392.42" width="18" height="18" fill="#000"/>
<rect x="1194.35" y="3423.11" width="18" height="18" fill="#000"/>
<rect x="1203.24" y="3452.69" width="18" height="18" fill="#000"/>
<rect x="1212.13" y="3480.75" width="18" height="18" fill="#000"/>
<rect x="1221.01" y="3506.96" width="18" height="18" fill="#000"/>
<rect x="1234.34" y="3542.3" width="18" height="18" fill="#808000"/>
<rect x="1252.11" y="3581.46" width="18" height="18" fill="#800000"/>
<rect x="1265.44" y="3604.89" width="18" height="18" fill="#000"/>
<rect x="1274.33" y="3617.87" width="18" height="18" fill="#000"/>
<rect x="1323.2" y="3659.45" width="18" height="18" fill="#F4C2C2"/>
<rect x="1385.4" y="3673.01" width="18" height="18" fill="#9ACD32"/>
<rect x="1460.93" y="3674.82" width="18" height="18" fill="#708090"/>
<rect x="1714.17" y="3674.9" width="18" height="18" fill="#6600B3"/>
<rect x="1914.1" y="3674.9" width="18" height="18" fill="#000"/>
<rect x="1949.64" y="3674.9" width="18" height="18" fill="#005B5B"/>
</g>
<g>
<path fill="#CC0000" d="M232.41 3693.6H236.41V3787.33H232.41Z M234.81 3679.1 L245.61 3709.6 L242.81 3711.2 L234.81 3702.4 L226.81 3711.2 L224.01 3709.6Z"/>
<path fill="#000" d="M268.2 3693.6H271.7V3813.27H268.2Z M270.35 3679.1 L281.15 3709.6 L278.35 3711.2 L270.35 3702.4 L262.35 3711.2 L259.55 3709.6Z"/>
<path fill="#0000CC" d="M467.88 3693.6H471.88V3787.33H467.88Z M470.28 3679.1 L481.08 3709.6 L478.28 3711.2 L470.28 3702.4 L462.28 3711.2 L459.48 3709.6Z"/>
<path fill="#009900" d="M721.12 3693.52H725.12V3786.86H721.12Z M723.52 3679.02 L734.32 3709.52 L731.52 3711.12 L723.52 3702.32 L715.52 3711.12 L712.72 3709.52Z"/>
<path fill="#F2669A" d="M796.65 3691.71H800.65V3785.05H796.65Z M799.05 3677.21 L809.85 3707.71 L807.05 3709.31 L799.05 3700.51 L791.05 3709.31 L788.25 3707.71Z"/>
<path fill="#009999" d="M858.85 3678.15H862.85V3759.88H858.85Z M861.25 3663.65 L872.05 3694.15 L869.25 3695.75 L861.25 3686.95 L853.25 3695.75 L850.45 3694.15Z"/>
<path fill="#000" d="M907.97 3636.57H911.47V3756.23H907.97Z M910.12 3622.07 L920.92 3652.57 L918.12 3654.17 L910.12 3645.37 L902.12 3654.17 L899.32 3652.57Z"/>
<path fill="#000" d="M916.86 3623.59H920.36V3743.26H916.86Z M919.01 3609.09 L929.81 3639.59 L927.01 3641.19 L919.01 3632.39 L911.01 3641.19 L908.21 3639.59Z"/>
<path fill="#964B00" d="M929.94 3600.16H933.94V3692.76H929.94Z M932.34 3585.66 L943.14 3616.16 L940.34 3617.76 L932.34 3608.96 L924.34 3617.76 L921.54 3616.16Z"/>
<path fill="#EDB120" d="M947.71 3561H951.71V3653.59H947.71Z M950.11 3546.5 L960.91 3577 L958.11 3578.6 L950.11 3569.8 L942.11 3578.6 L939.31 3577Z"/>
<path fill="#000" d="M961.29 3525.66H964.79V3645.33H961.29Z M963.44 3511.16 L974.24 3541.66 L971.44 3543.26 L963.44 3534.46 L955.44 3543.26 L952.64 3541.66Z"/>
<path fill="#000" d="M970.17 3499.45H973.67V3619.12H970.17Z M972.32 3484.95 L983.12 3515.45 L980.32 3517.05 L972.32 3508.25 L964.32 3517.05 L961.52 3515.45Z"/>
<path fill="#000" d="M979.06 3471.39H982.56V3591.06H979.06Z M981.21 3456.89 L992.01 3487.39 L989.21 3488.99 L981.21 3480.19 L973.21 3488.99 L970.41 3487.39Z"/>
<path fill="#000" d="M987.95 3441.81H991.45V3561.47H987.95Z M990.1 3427.31 L1000.9 3457.81 L998.1 3459.41 L990.1 3450.61 L982.1 3459.41 L979.3 3457.81Z"/>
<path fill="#000" d="M996.83 3411.12H1000.33V3530.79H996.83Z M998.98 3396.62 L1009.78 3427.12 L1006.98 3428.72 L998.98 3419.92 L990.98 3428.72 L988.18 3427.12Z"/>
<path fill="#000" d="M1005.72 3379.84H1009.22V3499.51H1005.72Z M1007.87 3365.34 L1018.67 3395.84 L1015.87 3397.44 L1007.87 3388.64 L999.87 3397.44 L997.07 3395.84Z"/>
<path fill="#000" d="M1014.6 3348.58H1018.1V3468.24H1014.6Z M1016.75 3334.08 L1027.55 3364.58 L1024.75 3366.18 L1016.75 3357.38 L1008.75 3366.18 L1005.95 3364.58Z"/>
<path fill="#000" d="M1023.49 3317.97H1026.99V3437.63H1023.49Z M1025.64 3303.47 L1036.44 3333.97 L1033.64 3335.57 L1025.64 3326.77 L1017.64 3335.57 L1014.84 3333.97Z"/>
<path fill="#000" d="M1032.37 3288.71H1035.87V3408.38H1032.37Z M1034.52 3274.21 L1045.32 3304.71 L1042.52 3306.31 L1034.52 3297.51 L1026.52 3306.31 L1023.72 3304.71Z"/>
<path fill="#000" d="M1041.26 3261.52H1044.76V3381.19H1041.26Z M1043.41 3247.02 L1054.21 3277.52 L1051.41 3279.12 L1043.41 3270.32 L1035.41 3279.12 L1032.61 3277.52Z"/>
<path fill="#000" d="M1050.15 3237.09H1053.65V3356.76H1050.15Z M1052.3 3222.59 L1063.1 3253.09 L1060.3 3254.69 L1052.3 3245.89 L1044.3 3254.69 L1041.5 3253.09Z"/>
<path fill="#000" d="M1059.03 3216.08H1062.53V3335.74H1059.03Z M1061.18 3201.58 L1071.98 3232.08 L1069.18 3233.68 L1061.18 3224.88 L1053.18 3233.68 L1050.38 3232.08Z"/>
<path fill="#000" d="M1067.92 3199.07H1071.42V3318.73H1067.92Z M1070.07 3184.57 L1080.87 3215.07 L1078.07 3216.67 L1070.07 3207.87 L1062.07 3216.67 L1059.27 3215.07Z"/>
<path fill="#000" d="M1076.8 3186.55H1080.3V3306.21H1076.8Z M1078.95 3172.05 L1089.75 3202.55 L1086.95 3204.15 L1078.95 3195.35 L1070.95 3204.15 L1068.15 3202.55Z"/>
<path fill="#000" d="M1085.69 3178.88H1089.19V3298.55H1085.69Z M1087.84 3164.38 L1098.64 3194.88 L1095.84 3196.48 L1087.84 3187.68 L1079.84 3196.48 L1077.04 3194.88Z"/>
<path fill="#000" d="M1094.57 3176.3H1098.07V3295.97H1094.57Z M1096.72 3161.8 L1107.52 3192.3 L1104.72 3193.9 L1096.72 3185.1 L1088.72 3193.9 L1085.92 3192.3Z"/>
<path fill="#000" d="M1103.46 3178.88H1106.96V3298.55H1103.46Z M1105.61 3164.38 L1116.41 3194.88 L1113.61 3196.48 L1105.61 3187.68 L1097.61 3196.48 L1094.81 3194.88Z"/>
<path fill="#000" d="M1112.35 3186.55H1115.85V3306.21H1112.35Z M1114.5 3172.05 L1125.3 3202.55 L1122.5 3204.15 L1114.5 3195.35 L1106.5 3204.15 L1103.7 3202.55Z"/>
<path fill="#000" d="M1121.23 3199.07H1124.73V3318.73H1121.23Z M1123.38 3184.57 L1134.18 3215.07 L1131.38 3216.67 L1123.38 3207.87 L1115.38 3216.67 L1112.58 3215.07Z"/>
<path fill="#000" d="M1130.12 3216.08H1133.62V3335.74H1130.12Z M1132.27 3201.58 L1143.07 3232.08 L1140.27 3233.68 L1132.27 3224.88 L1124.27 3233.68 L1121.47 3232.08Z"/>
<path fill="#000" d="M1139 3237.09H1142.5V3356.76H1139Z M1141.15 3222.59 L1151.95 3253.09 L1149.15 3254.69 L1141.15 3245.89 L1133.15 3254.69 L1130.35 3253.09Z"/>
<path fill="#000" d="M1147.89 3261.52H1151.39V3381.19H1147.89Z M1150.04 3247.02 L1160.84 3277.52 L1158.04 3279.12 L1150.04 3270.32 L1142.04 3279.12 L1139.24 3277.52Z"/>
<path fill="#000" d="M1156.78 3288.71H1160.28V3408.38H1156.78Z M1158.93 3274.21 L1169.73 3304.71 L1166.93 3306.31 L1158.93 3297.51 L1150.93 3306.31 L1148.13 3304.71Z"/>
<path fill="#000" d="M1165.66 3317.97H1169.16V3437.63H1165.66Z M1167.81 3303.47 L1178.61 3333.97 L1175.81 3335.57 L1167.81 3326.77 L1159.81 3335.57 L1157.01 3333.97Z"/>
<path fill="#000" d="M1174.55 3348.58H1178.05V3468.24H1174.55Z M1176.7 3334.08 L1187.5 3364.58 L1184.7 3366.18 L1176.7 3357.38 L1168.7 3366.18 L1165.9 3364.58Z"/>
<path fill="#000" d="M1183.43 3379.84H1186.93V3499.51H1183.43Z M1185.58 3365.34 L1196.38 3395.84 L1193.58 3397.44 L1185.58 3388.64 L1177.58 3397.44 L1174.78 3395.84Z"/>
<path fill="#000" d="M1192.32 3411.12H1195.82V3530.79H1192.32Z M1194.47 3396.62 L1205.27 3427.12 L1202.47 3428.72 L1194.47 3419.92 L1186.47 3428.72 L1183.67 3427.12Z"/>
<path fill="#000" d="M1201.2 3441.81H1204.7V3561.47H1201.2Z M1203.35 3427.31 L1214.15 3457.81 L1211.35 3459.41 L1203.35 3450.61 L1195.35 3459.41 L1192.55 3457.81Z"/>
<path fill="#000" d="M1210.09 3471.39H1213.59V3591.06H1210.09Z M1212.24 3456.89 L1223.04 3487.39 L1220.24 3488.99 L1212.24 3480.19 L1204.24 3488.99 L1201.44 3487.39Z"/>
<path fill="#000" d="M1218.98 3499.45H1222.48V3619.12H1218.98Z M1221.13 3484.95 L1231.93 3515.45 L1229.13 3517.05 L1221.13 3508.25 L1213.13 3517.05 L1210.33 3515.45Z"/>
<path fill="#000" d="M1227.86 3525.66H1231.36V3645.33H1227.86Z M1230.01 3511.16 L1240.81 3541.66 L1238.01 3543.26 L1230.01 3534.46 L1222.01 3543.26 L1219.21 3541.66Z"/>
<path fill="#808000" d="M1240.94 3561H1244.94V3653.59H1240.94Z M1243.34 3546.5 L1254.14 3577 L1251.34 3578.6 L1243.34 3569.8 L1235.34 3578.6 L1232.54 3577Z"/>
<path fill="#800000" d="M1258.71 3600.16H1262.71V3692.76H1258.71Z M1261.11 3585.66 L1271.91 3616.16 L1269.11 3617.76 L1261.11 3608.96 L1253.11 3617.76 L1250.31 3616.16Z"/>
<path fill="#000" d="M1272.29 3623.59H1275.79V3743.26H1272.29Z M1274.44 3609.09 L1285.24 3639.59 L1282.44 3641.19 L1274.44 3632.39 L1266.44 3641.19 L1263.64 3639.59Z"/>
<path fill="#000" d="M1281.18 3636.57H1284.68V3756.23H1281.18Z M1283.33 3622.07 L1294.13 3652.57 L1291.33 3654.17 L1283.33 3645.37 L1275.33 3654.17 L1272.53 3652.57Z"/>
<path fill="#F4C2C2" d="M1329.8 3678.15H1333.8V3759.88H1329.8Z M1332.2 3663.65 L1343 3694.15 L1340.2 3695.75 L1332.2 3686.95 L1324.2 3695.75 L1321.4 3694.15Z"/>
<path fill="#9ACD32" d="M1392 3691.71H1396V3785.05H1392Z M1394.4 3677.21 L1405.2 3707.71 L1402.4 3709.31 L1394.4 3700.51 L1386.4 3709.31 L1383.6 3707.71Z"/>
<path fill="#708090" d="M1467.53 3693.52H1471.53V3786.86H1467.53Z M1469.93 3679.02 L1480.73 3709.52 L1477.93 3711.12 L1469.93 3702.32 L1461.93 3711.12 L1459.13 3709.52Z"/>
<path fill="#6600B3" d="M1720.77 3693.6H1724.77V3787.33H1720.77Z M1723.17 3679.1 L1733.97 3709.6 L1731.17 3711.2 L1723.17 3702.4 L1715.17 3711.2 L1712.37 3709.6Z"/>
<path fill="#000" d="M1920.95 3693.6H1924.45V3813.27H1920.95Z M1923.1 3679.1 L1933.9 3709.6 L1931.1 3711.2 L1923.1 3702.4 L1915.1 3711.2 L1912.3 3709.6Z"/>
<path fill="#005B5B" d="M1956.24 3693.6H1960.24V3787.33H1956.24Z M1958.64 3679.1 L1969.44 3709.6 L1966.64 3711.2 L1958.64 3702.4 L1950.64 3711.2 L1947.84 3709.6Z"/>
</g>
<rect x="1602.7" y="3115.1" width="318.5" height="79.8" fill="#fff" stroke="#1a1a1a" stroke-width="2.2"/>
<circle cx="1649.2" cy="3137" r="3.6" fill="#000"/>
<rect x="1640.2" y="3164.1" width="18" height="18" fill="#000"/>
<g font-family="'Liberation Serif','Times New Roman',Times,serif" font-size="30" fill="#000">
<text x="1694" y="3147.9" textLength="218.5" lengthAdjust="spacingAndGlyphs">Syntactic samples</text>
<text x="1694" y="3183.9" textLength="218.5" lengthAdjust="spacingAndGlyphs">Semantic samples</text>
</g>
<g font-family="'Liberation Serif','Times New Roman',Times,serif" font-size="32" fill="#262626">
<text x="208.15" y="3917.7" text-anchor="middle" textLength="40.52" lengthAdjust="spacingAndGlyphs">-10</text>
<text x="385.87" y="3917.7" text-anchor="middle" textLength="25.32" lengthAdjust="spacingAndGlyphs">-8</text>
<text x="563.58" y="3917.7" text-anchor="middle" textLength="25.32" lengthAdjust="spacingAndGlyphs">-6</text>
<text x="741.29" y="3917.7" text-anchor="middle" textLength="25.32" lengthAdjust="spacingAndGlyphs">-4</text>
<text x="919.01" y="3917.7" text-anchor="middle" textLength="25.32" lengthAdjust="spacingAndGlyphs">-2</text>
<text x="1096.72" y="3917.7" text-anchor="middle" textLength="15.2" lengthAdjust="spacingAndGlyphs">0</text>
<text x="1274.44" y="3917.7" text-anchor="middle" textLength="15.2" lengthAdjust="spacingAndGlyphs">2</text>
<text x="1452.15" y="3917.7" text-anchor="middle" textLength="15.2" lengthAdjust="spacingAndGlyphs">4</text>
<text x="1629.87" y="3917.7" text-anchor="middle" textLength="15.2" lengthAdjust="spacingAndGlyphs">6</text>
<text x="1807.58" y="3917.7" text-anchor="middle" textLength="15.2" lengthAdjust="spacingAndGlyphs">8</text>
<text x="1985.3" y="3917.7" text-anchor="middle" textLength="30.4" lengthAdjust="spacingAndGlyphs">10</text>
<text x="197.5" y="3825.27" text-anchor="end" textLength="15.2" lengthAdjust="spacingAndGlyphs">0</text>
<text x="197.5" y="3695.6" text-anchor="end" textLength="38" lengthAdjust="spacingAndGlyphs">0.1</text>
<text x="197.5" y="3565.93" text-anchor="end" textLength="38" lengthAdjust="spacingAndGlyphs">0.2</text>
<text x="197.5" y="3436.27" text-anchor="end" textLength="38" lengthAdjust="spacingAndGlyphs">0.3</text>
<text x="197.5" y="3306.6" text-anchor="end" textLength="38" lengthAdjust="spacingAndGlyphs">0.4</text>
<text x="197.5" y="3176.93" text-anchor="end" textLength="38" lengthAdjust="spacingAndGlyphs">0.5</text>
</g>
<text x="1096.6" y="3960.3" text-anchor="middle" font-family="'Liberation Serif','Times New Roman',Times,serif" font-size="35.5" fill="#262626" textLength="203" lengthAdjust="spacingAndGlyphs">Sample Points</text>
<text transform="translate(143.8 3489.4) rotate(-90)" text-anchor="middle" font-family="'Liberation Serif','Times New Roman',Times,serif" font-size="35.5" fill="#262626" textLength="418" lengthAdjust="spacingAndGlyphs">Gaussian Probability Density</text>
</g>
<g font-family="'Liberation Serif','Times New Roman',Times,serif" fill="#000">
<text><tspan x="652.72" y="1719" font-size="77" textLength="23.29" lengthAdjust="spacingAndGlyphs">(</tspan><tspan x="675.93" y="1719" font-size="77" textLength="34.98" lengthAdjust="spacingAndGlyphs" font-weight="bold">a</tspan><tspan x="713.38" y="1719" font-size="77" textLength="23.81" lengthAdjust="spacingAndGlyphs">)</tspan><tspan font-size="1"> </tspan><tspan x="753.91" y="1719" font-size="77" textLength="303.29" lengthAdjust="spacingAndGlyphs">Semantic</tspan><tspan font-size="1"> </tspan><tspan x="1076.85" y="1719" font-size="77" textLength="109.38" lengthAdjust="spacingAndGlyphs">RD</tspan><tspan font-size="1"> </tspan><tspan x="1202.31" y="1719" font-size="77" textLength="275.88" lengthAdjust="spacingAndGlyphs">function</tspan></text>
<text><tspan x="129.77" y="2905.2" font-size="77" textLength="23.68" lengthAdjust="spacingAndGlyphs">(</tspan><tspan x="153.36" y="2905.2" font-size="77" textLength="44.5" lengthAdjust="spacingAndGlyphs" font-weight="bold">b</tspan><tspan x="197.99" y="2905.2" font-size="77" textLength="23.68" lengthAdjust="spacingAndGlyphs">)</tspan><tspan font-size="1"> </tspan><tspan x="240.91" y="2905.2" font-size="77" textLength="427.31" lengthAdjust="spacingAndGlyphs">Intermediate</tspan><tspan font-size="1"> </tspan><tspan x="685.11" y="2905.2" font-size="77" textLength="427.3" lengthAdjust="spacingAndGlyphs">synonymous</tspan><tspan font-size="1"> </tspan><tspan x="1130.32" y="2905.2" font-size="77" textLength="302.33" lengthAdjust="spacingAndGlyphs">mapping</tspan><tspan font-size="1"> </tspan><tspan x="1452.5" y="2905.2" font-size="77" textLength="149.49" lengthAdjust="spacingAndGlyphs">with</tspan><tspan font-size="1"> </tspan><tspan x="1625.13" y="2905.2" font-size="77" textLength="39.94" lengthAdjust="spacingAndGlyphs" font-style="italic">L</tspan><tspan x="1665.18" y="2916" font-size="57" textLength="22.53" lengthAdjust="spacingAndGlyphs" font-style="italic">s</tspan><tspan font-size="1"> </tspan><tspan x="1713.41" y="2909.4" font-size="64" textLength="62.44" lengthAdjust="spacingAndGlyphs">=</tspan><tspan font-size="1"> </tspan><tspan x="1796.15" y="2905.2" font-size="77" textLength="207.24" lengthAdjust="spacingAndGlyphs">1.1328</tspan></text>
<text><tspan x="210.1" y="4091.2" font-size="77" textLength="24.21" lengthAdjust="spacingAndGlyphs">(</tspan><tspan x="234.22" y="4091.2" font-size="77" textLength="32.59" lengthAdjust="spacingAndGlyphs" font-weight="bold">c</tspan><tspan x="266.98" y="4091.2" font-size="77" textLength="23.81" lengthAdjust="spacingAndGlyphs">)</tspan><tspan font-size="1"> </tspan><tspan x="309.63" y="4091.2" font-size="77" textLength="275.36" lengthAdjust="spacingAndGlyphs">Optimal</tspan><tspan font-size="1"> </tspan><tspan x="603.81" y="4091.2" font-size="77" textLength="427.3" lengthAdjust="spacingAndGlyphs">synonymous</tspan><tspan font-size="1"> </tspan><tspan x="1049.02" y="4091.2" font-size="77" textLength="302.33" lengthAdjust="spacingAndGlyphs">mapping</tspan><tspan font-size="1"> </tspan><tspan x="1371.2" y="4091.2" font-size="77" textLength="149.49" lengthAdjust="spacingAndGlyphs">with</tspan><tspan font-size="1"> </tspan><tspan x="1543.83" y="4091.2" font-size="77" textLength="39.94" lengthAdjust="spacingAndGlyphs" font-style="italic">L</tspan><tspan x="1583.88" y="4102" font-size="57" textLength="22.53" lengthAdjust="spacingAndGlyphs" font-style="italic">s</tspan><tspan font-size="1"> </tspan><tspan x="1632.11" y="4095.4" font-size="64" textLength="62.44" lengthAdjust="spacingAndGlyphs">=</tspan><tspan font-size="1"> </tspan><tspan x="1713.09" y="4091.2" font-size="77" textLength="209.13" lengthAdjust="spacingAndGlyphs">1.3470</tspan></text>
</g>
</svg></body></html>
